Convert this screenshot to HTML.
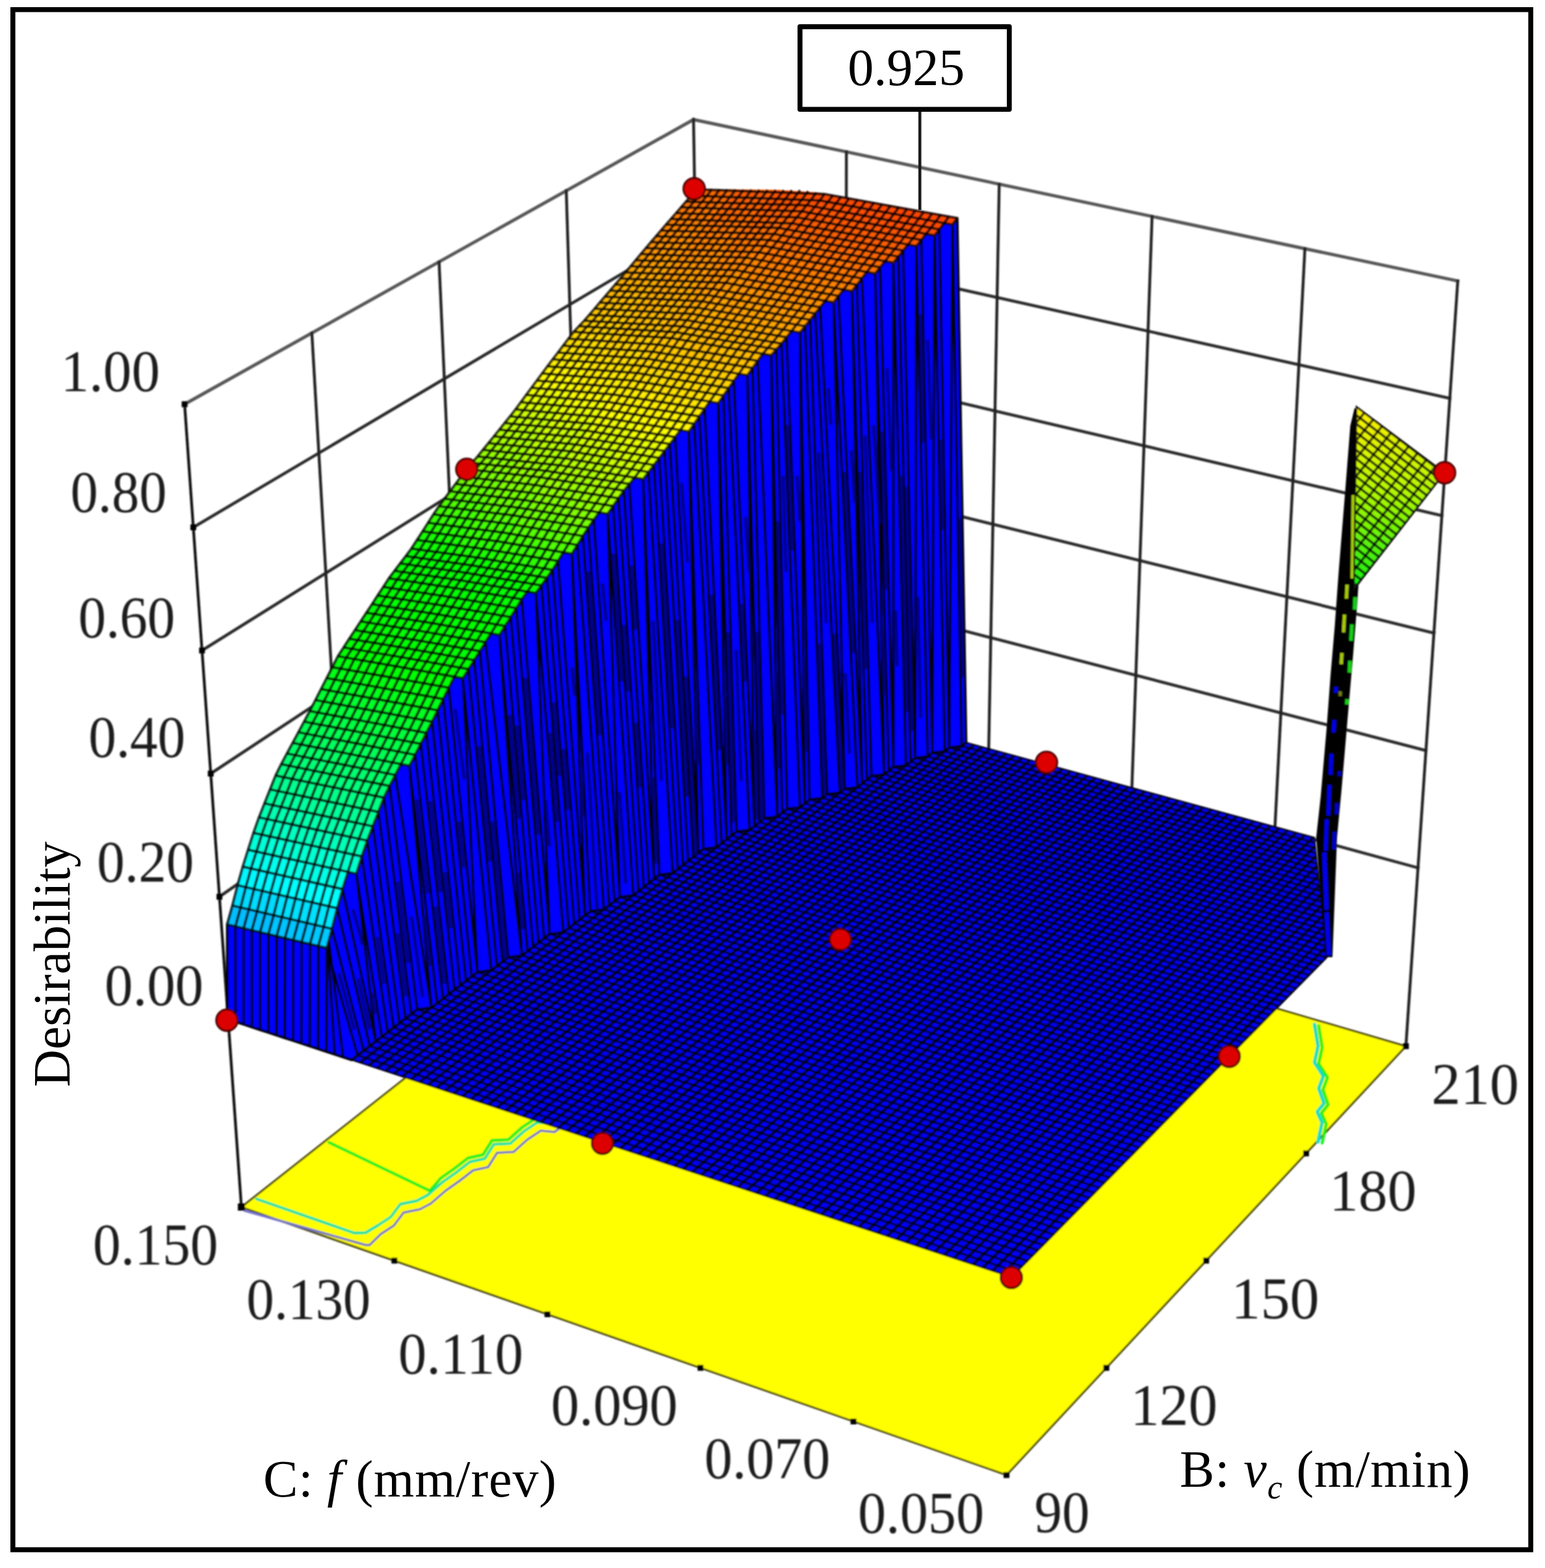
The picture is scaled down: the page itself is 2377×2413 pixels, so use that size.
<!DOCTYPE html>
<html><head><meta charset="utf-8"><title>Desirability 3D surface</title>
<style>html,body{margin:0;padding:0;background:#fff}svg{display:block}</style></head>
<body>
<svg xmlns="http://www.w3.org/2000/svg" width="2377" height="2413" viewBox="0 0 2377 2413">
<rect width="2377" height="2413" fill="#fff"/>
<defs><filter id="bl" x="0" y="0" width="2377" height="2413" filterUnits="userSpaceOnUse"><feGaussianBlur stdDeviation="1.1"/></filter></defs>
<g filter="url(#bl)">
<g fill="none" stroke-linecap="square"><path d="M284.0,622.0L1067.0,184.0M1067.0,184.0L2242.8,432.4" stroke="#565656" stroke-width="5"/><path d="M297.4,811.5L1069.8,354.4M1069.8,354.4L2230.6,613.0M310.8,1001.0L1072.5,524.8M1072.5,524.8L2218.3,793.6M324.2,1190.5L1075.3,695.2M1075.3,695.2L2206.1,974.2M337.6,1380.0L1078.0,865.6M1078.0,865.6L2193.8,1154.9M351.0,1569.5L1080.8,1036.0M1080.8,1036.0L2181.6,1335.5" stroke="#2c2c2c" stroke-width="4.6"/><path d="M1067.0,184.0L1080.8,1036.0M2242.8,432.4L2163.0,1610.0M479.8,512.5L533.5,1436.2M675.5,403.0L715.9,1302.8M871.2,293.5L898.4,1169.4M1302.2,233.7L1301.0,1095.9M1537.3,283.4L1521.1,1155.8M1772.5,333.0L1741.3,1215.7M2007.6,382.7L1961.4,1275.6" stroke="#202020" stroke-width="4.4"/></g>
<polygon points="371.4,1857.6 1548.5,2270.0 2163.0,1610.0 1085.0,1295.0" fill="#ffff00" stroke="#4a4610" stroke-width="3" stroke-linejoin="miter"/>
<polyline points="376.0,1863.0 562.6,1916.0 568.6,1916.0 586.0,1899.0 606.0,1886.0 621.0,1866.0 646.0,1861.0 663.0,1852.0 686.0,1832.0 706.0,1818.0 728.0,1801.0 751.0,1796.0 764.8,1774.0 790.0,1772.8 811.0,1754.0 832.0,1740.0 853.0,1742.0 886.0,1718.0" fill="none" stroke="#7474cc" stroke-width="3.6" stroke-linejoin="round" stroke-linecap="round"/>
<polyline points="394.5,1845.0 545.0,1897.5 562.6,1897.0 581.0,1886.0 601.0,1873.0 616.0,1853.0 641.0,1848.0 658.0,1839.0 681.0,1819.0 701.0,1805.0 723.0,1788.0 746.0,1783.0 759.8,1761.0 785.0,1759.8 806.0,1741.0 827.0,1727.0 848.0,1729.0 881.0,1705.0" fill="none" stroke="#1ce0a8" stroke-width="4.4" stroke-linejoin="round" stroke-linecap="round"/>
<polyline points="506.0,1758.0 661.3,1832.4 678.0,1813.0 698.0,1799.0 720.0,1782.0 743.0,1777.0 756.8,1755.0 782.0,1753.8 803.0,1735.0 824.0,1721.0 845.0,1723.0 878.0,1699.0" fill="none" stroke="#14f024" stroke-width="4.4" stroke-linejoin="round" stroke-linecap="round"/>
<polyline points="2022.4,1576.5 2027.8,1610.0 2022.4,1635.0 2036.0,1656.0 2029.0,1675.0 2037.0,1698.0 2026.6,1711.0 2034.0,1727.7 2027.7,1757.0" fill="none" stroke="#18dcc8" stroke-width="5.5" stroke-linejoin="round" stroke-linecap="round"/>
<polyline points="2028.9,1578.5 2034.3,1612.0 2028.9,1637.0 2042.5,1658.0 2035.5,1677.0 2043.5,1700.0 2033.1,1713.0 2040.5,1729.7 2034.2,1759.0" fill="none" stroke="#22f018" stroke-width="4.5" stroke-linejoin="round" stroke-linecap="round"/>
<path d="M284.0,622.0L371.4,1857.6" stroke="#111" stroke-width="4.2" fill="none"/>
<path d="M279.5,617.5h9v9h-9zM292.9,807.0h9v9h-9zM306.3,996.5h9v9h-9zM319.7,1186.0h9v9h-9zM333.1,1375.5h9v9h-9zM346.5,1565.0h9v9h-9zM365.9,1852.1h11v11h-11zM602.3,1935.6h9v9h-9zM837.7,2018.1h9v9h-9zM1073.2,2100.5h9v9h-9zM1308.6,2183.0h9v9h-9zM1544.0,2265.5h9v9h-9zM1697.6,2100.5h9v9h-9zM1851.2,1935.5h9v9h-9zM2004.9,1770.5h9v9h-9zM2158.5,1605.5h9v9h-9z" fill="#000"/>
<defs><clipPath id="fc"><polygon points="540.9,1631.1 550.2,1624.0 559.5,1616.8 568.8,1609.7 578.0,1602.6 587.2,1595.5 596.4,1588.4 605.5,1581.4 614.6,1574.4 623.7,1567.4 632.8,1560.4 641.8,1553.5 663.6,1550.7 672.5,1543.7 681.5,1536.9 690.4,1530.0 699.2,1523.1 708.0,1516.3 716.9,1509.5 725.6,1502.7 734.4,1496.0 755.8,1493.2 764.5,1486.5 773.1,1479.8 781.8,1473.1 803.0,1470.4 811.6,1463.8 820.1,1457.1 828.6,1450.5 837.1,1444.0 845.5,1437.4 866.6,1434.7 874.9,1428.2 883.3,1421.7 891.6,1415.2 899.9,1408.7 908.2,1402.3 929.0,1399.6 937.2,1393.2 945.4,1386.8 953.6,1380.4 974.2,1377.8 982.3,1371.5 990.4,1365.2 998.4,1358.8 1006.4,1352.6 1014.4,1346.3 1034.9,1343.7 1042.8,1337.5 1050.7,1331.3 1058.6,1325.0 1066.5,1318.9 1074.3,1312.7 1082.1,1306.5 1102.3,1304.0 1110.1,1297.9 1117.8,1291.8 1125.5,1285.7 1133.1,1279.7 1153.2,1277.2 1160.8,1271.2 1168.4,1265.2 1176.0,1259.1 1195.9,1256.7 1203.4,1250.7 1210.9,1244.8 1230.7,1242.4 1238.1,1236.4 1245.5,1230.5 1265.2,1228.1 1272.6,1222.2 1292.2,1219.8 1299.5,1214.0 1319.1,1211.6 1326.3,1205.8 1333.6,1199.9 1340.7,1194.1 1360.2,1191.8 1367.3,1186.0 1374.5,1180.2 1393.8,1177.9 1400.9,1172.2 1407.9,1166.5 1427.2,1164.1 1434.2,1158.4 1453.4,1156.1 1460.4,1150.5 1479.5,1148.2 1486.4,1142.5 2022.2,1288.9 2041.3,1473.7 1556.8,1965.7"/></clipPath></defs>
<polygon points="540.9,1631.1 550.2,1624.0 559.5,1616.8 568.8,1609.7 578.0,1602.6 587.2,1595.5 596.4,1588.4 605.5,1581.4 614.6,1574.4 623.7,1567.4 632.8,1560.4 641.8,1553.5 663.6,1550.7 672.5,1543.7 681.5,1536.9 690.4,1530.0 699.2,1523.1 708.0,1516.3 716.9,1509.5 725.6,1502.7 734.4,1496.0 755.8,1493.2 764.5,1486.5 773.1,1479.8 781.8,1473.1 803.0,1470.4 811.6,1463.8 820.1,1457.1 828.6,1450.5 837.1,1444.0 845.5,1437.4 866.6,1434.7 874.9,1428.2 883.3,1421.7 891.6,1415.2 899.9,1408.7 908.2,1402.3 929.0,1399.6 937.2,1393.2 945.4,1386.8 953.6,1380.4 974.2,1377.8 982.3,1371.5 990.4,1365.2 998.4,1358.8 1006.4,1352.6 1014.4,1346.3 1034.9,1343.7 1042.8,1337.5 1050.7,1331.3 1058.6,1325.0 1066.5,1318.9 1074.3,1312.7 1082.1,1306.5 1102.3,1304.0 1110.1,1297.9 1117.8,1291.8 1125.5,1285.7 1133.1,1279.7 1153.2,1277.2 1160.8,1271.2 1168.4,1265.2 1176.0,1259.1 1195.9,1256.7 1203.4,1250.7 1210.9,1244.8 1230.7,1242.4 1238.1,1236.4 1245.5,1230.5 1265.2,1228.1 1272.6,1222.2 1292.2,1219.8 1299.5,1214.0 1319.1,1211.6 1326.3,1205.8 1333.6,1199.9 1340.7,1194.1 1360.2,1191.8 1367.3,1186.0 1374.5,1180.2 1393.8,1177.9 1400.9,1172.2 1407.9,1166.5 1427.2,1164.1 1434.2,1158.4 1453.4,1156.1 1460.4,1150.5 1479.5,1148.2 1486.4,1142.5 2022.2,1288.9 2041.3,1473.7 1556.8,1965.7" fill="#0000fa" stroke="#00001c" stroke-width="2"/>
<g clip-path="url(#fc)" fill="none" stroke="#000008"><path d="M529.5,1627.4L1556.8,1965.7M538.9,1620.2L1565.0,1957.4M548.2,1613.1L1573.1,1949.1M557.4,1606.0L1581.3,1940.8M566.7,1598.9L1589.4,1932.5M575.9,1591.8L1597.5,1924.3M585.1,1584.8L1605.5,1916.2M594.2,1577.7L1613.6,1908.0M603.4,1570.7L1621.6,1899.9M612.5,1563.7L1629.5,1891.8M621.5,1556.8L1637.5,1883.7M630.6,1549.9L1645.4,1875.7M639.6,1543.0L1653.3,1867.7M648.5,1536.1L1661.1,1859.7M657.5,1529.2L1669.0,1851.8M666.4,1522.4L1676.8,1843.8M675.3,1515.5L1684.5,1835.9M684.1,1508.7L1692.3,1828.1M693.0,1502.0L1700.0,1820.2M701.8,1495.2L1707.7,1812.4M710.5,1488.5L1715.4,1804.6M719.3,1481.8L1723.0,1796.9M728.0,1475.1L1730.6,1789.1M736.7,1468.4L1738.2,1781.4M745.3,1461.8L1745.8,1773.8M754.0,1455.2L1753.3,1766.1M762.6,1448.6L1760.8,1758.5M771.1,1442.0L1768.3,1750.9M779.7,1435.4L1775.8,1743.3M788.2,1428.9L1783.2,1735.8M796.7,1422.4L1790.6,1728.2M805.2,1415.9L1798.0,1720.8M813.6,1409.4L1805.4,1713.3M822.0,1402.9L1812.7,1705.8M830.4,1396.5L1820.0,1698.4M838.8,1390.1L1827.3,1691.0M847.1,1383.7L1834.5,1683.7M855.4,1377.3L1841.8,1676.3M863.7,1371.0L1849.0,1669.0M871.9,1364.6L1856.1,1661.7M880.2,1358.3L1863.3,1654.4M888.4,1352.0L1870.4,1647.2M896.5,1345.8L1877.6,1640.0M904.7,1339.5L1884.6,1632.8M912.8,1333.3L1891.7,1625.6M920.9,1327.1L1898.7,1618.5M929.0,1320.9L1905.8,1611.3M937.0,1314.7L1912.7,1604.2M945.1,1308.5L1919.7,1597.2M953.1,1302.4L1926.7,1590.1M961.0,1296.3L1933.6,1583.1M969.0,1290.2L1940.5,1576.1M976.9,1284.1L1947.4,1569.1M984.8,1278.0L1954.2,1562.1M992.7,1272.0L1961.1,1555.2M1000.5,1266.0L1967.9,1548.3M1008.4,1260.0L1974.6,1541.4M1016.2,1254.0L1981.4,1534.5M1024.0,1248.0L1988.2,1527.7M1031.7,1242.0L1994.9,1520.9M1039.4,1236.1L2001.6,1514.1M1047.2,1230.2L2008.3,1507.3M1054.8,1224.3L2014.9,1500.5M1062.5,1218.4L2021.5,1493.8M1070.1,1212.6L2028.2,1487.1M1077.8,1206.7L2034.7,1480.4M1085.3,1200.9L2041.3,1473.7M1092.9,1195.1L2047.9,1467.1M1100.5,1189.3L2054.4,1460.4M1108.0,1183.5L2060.9,1453.8M1115.5,1177.8L2067.4,1447.3M1123.0,1172.0L2073.8,1440.7M1130.4,1166.3L2080.3,1434.1M1137.9,1160.6L2086.7,1427.6M1145.3,1154.9L2093.1,1421.1M1152.7,1149.2L2099.5,1414.6M1160.0,1143.6L2105.9,1408.2M1167.4,1137.9L2112.2,1401.7M1174.7,1132.3L2118.5,1395.3M1182.0,1126.7L2124.8,1388.9M1189.3,1121.1L2131.1,1382.6M1196.5,1115.6L2137.4,1376.2M1203.8,1110.0L2143.6,1369.9M1211.0,1104.5L2149.8,1363.5M1218.2,1099.0L2156.0,1357.2M1225.4,1093.5L2162.2,1351.0M1232.5,1088.0L2168.4,1344.7M1239.7,1082.5L2174.5,1338.5M1246.8,1077.0L2180.6,1332.2" stroke-width="3.6" stroke-opacity="0.82"/><path d="M528.0,1626.9L1245.3,1076.6M540.9,1631.1L1257.2,1079.9M553.8,1635.4L1269.1,1083.1M566.8,1639.7L1281.0,1086.4M579.8,1644.0L1292.9,1089.6M592.8,1648.2L1304.8,1092.9M605.9,1652.5L1316.8,1096.2M618.9,1656.8L1328.8,1099.4M632.0,1661.1L1340.8,1102.7M645.1,1665.5L1352.8,1106.0M658.3,1669.8L1364.9,1109.3M671.5,1674.1L1376.9,1112.6M684.7,1678.5L1389.0,1115.9M697.9,1682.8L1401.1,1119.2M711.1,1687.2L1413.2,1122.5M724.4,1691.6L1425.4,1125.8M737.7,1696.0L1437.5,1129.2M751.0,1700.3L1449.7,1132.5M764.4,1704.7L1461.9,1135.8M777.8,1709.1L1474.2,1139.2M791.2,1713.6L1486.4,1142.5M804.6,1718.0L1498.7,1145.9M818.1,1722.4L1511.0,1149.2M831.6,1726.9L1523.3,1152.6M845.1,1731.3L1535.6,1156.0M858.6,1735.8L1548.0,1159.3M872.2,1740.2L1560.4,1162.7M885.8,1744.7L1572.7,1166.1M899.4,1749.2L1585.2,1169.5M913.1,1753.7L1597.6,1172.9M926.7,1758.2L1610.1,1176.3M940.4,1762.7L1622.6,1179.7M954.2,1767.2L1635.1,1183.1M967.9,1771.8L1647.6,1186.6M981.7,1776.3L1660.1,1190.0M995.5,1780.9L1672.7,1193.4M1009.4,1785.4L1685.3,1196.9M1023.2,1790.0L1697.9,1200.3M1037.1,1794.6L1710.6,1203.8M1051.1,1799.1L1723.2,1207.2M1065.0,1803.7L1735.9,1210.7M1079.0,1808.3L1748.6,1214.2M1093.0,1813.0L1761.3,1217.7M1107.0,1817.6L1774.1,1221.1M1121.1,1822.2L1786.8,1224.6M1135.2,1826.9L1799.6,1228.1M1149.3,1831.5L1812.5,1231.6M1163.5,1836.2L1825.3,1235.1M1177.7,1840.8L1838.2,1238.6M1191.9,1845.5L1851.0,1242.2M1206.1,1850.2L1863.9,1245.7M1220.4,1854.9L1876.9,1249.2M1234.7,1859.6L1889.8,1252.8M1249.0,1864.3L1902.8,1256.3M1263.4,1869.1L1915.8,1259.9M1277.7,1873.8L1928.8,1263.4M1292.2,1878.5L1941.9,1267.0M1306.6,1883.3L1954.9,1270.6M1321.1,1888.1L1968.0,1274.1M1335.6,1892.8L1981.1,1277.7M1350.1,1897.6L1994.3,1281.3M1364.7,1902.4L2007.4,1284.9M1379.3,1907.2L2020.6,1288.5M1393.9,1912.0L2033.8,1292.1M1408.5,1916.9L2047.0,1295.7M1423.2,1921.7L2060.3,1299.4M1437.9,1926.6L2073.6,1303.0M1452.7,1931.4L2086.9,1306.6M1467.5,1936.3L2100.2,1310.3M1482.3,1941.1L2113.5,1313.9M1497.1,1946.0L2126.9,1317.6M1512.0,1950.9L2140.3,1321.2M1526.9,1955.8L2153.7,1324.9M1541.8,1960.8L2167.2,1328.6M1556.8,1965.7L2180.6,1332.2" stroke-width="4.6" stroke-opacity="0.82"/></g>
<path d="M1465.5,345.6L1479.5,1148.2L1486.4,1142.5L1472.8,335.8ZM1445.2,353.0L1460.4,1150.5L1465.5,345.6L1452.5,343.2ZM1460.4,1150.5L1460.4,1150.5L1479.5,1148.2L1465.5,345.6ZM1437.8,362.3L1453.4,1156.1L1460.4,1150.5L1445.2,353.0ZM1417.4,369.2L1434.2,1158.4L1437.8,362.3L1424.8,359.9ZM1434.2,1158.4L1434.2,1158.4L1453.4,1156.1L1437.8,362.3ZM1409.9,378.6L1427.2,1164.1L1434.2,1158.4L1417.4,369.2ZM1389.5,385.5L1407.9,1166.5L1409.9,378.6L1397.0,376.2ZM1407.9,1166.5L1407.9,1166.5L1427.2,1164.1L1409.9,378.6ZM1382.0,394.9L1400.9,1172.2L1407.9,1166.5L1389.5,385.5ZM1374.5,404.3L1393.8,1177.9L1400.9,1172.2L1382.0,394.9ZM1354.0,411.3L1374.5,1180.2L1374.5,404.3L1361.6,401.9ZM1374.5,1180.2L1374.5,1180.2L1393.8,1177.9L1374.5,404.3ZM1346.5,421.0L1367.3,1186.0L1374.5,1180.2L1354.0,411.3ZM1326.0,428.4L1360.2,1191.8L1346.5,421.0L1333.5,418.6ZM1360.2,1191.8L1360.2,1191.8L1367.3,1186.0L1346.5,421.0ZM1318.4,438.2L1340.7,1194.1L1360.2,1191.8L1326.0,428.4ZM1310.7,448.0L1333.6,1199.9L1340.7,1194.1L1318.4,438.2ZM1290.1,455.4L1326.3,1205.8L1310.7,448.0L1297.8,445.6ZM1326.3,1205.8L1326.3,1205.8L1333.6,1199.9L1310.7,448.0ZM1282.5,465.3L1319.1,1211.6L1326.3,1205.8L1290.1,455.4ZM1261.8,472.7L1299.5,1214.0L1282.5,465.3L1269.5,462.9ZM1299.5,1214.0L1299.5,1214.0L1319.1,1211.6L1282.5,465.3ZM1254.1,482.4L1292.2,1219.8L1299.5,1214.0L1261.8,472.7ZM1246.4,492.1L1272.6,1222.2L1292.2,1219.8L1254.1,482.4ZM1238.6,501.9L1265.2,1228.1L1272.6,1222.2L1246.4,492.1ZM1230.8,511.6L1245.5,1230.5L1265.2,1228.1L1238.6,501.9ZM1210.1,519.0L1238.1,1236.4L1230.8,511.6L1217.9,509.2ZM1238.1,1236.4L1238.1,1236.4L1245.5,1230.5L1230.8,511.6ZM1202.3,528.7L1230.7,1242.4L1238.1,1236.4L1210.1,519.0ZM1194.4,537.6L1210.9,1244.8L1230.7,1242.4L1202.3,528.7ZM1186.5,546.7L1203.4,1250.7L1210.9,1244.8L1194.4,537.6ZM1165.7,555.3L1195.9,1256.7L1186.5,546.7L1173.6,544.3ZM1195.9,1256.7L1195.9,1256.7L1203.4,1250.7L1186.5,546.7ZM1157.8,566.3L1176.0,1259.1L1195.9,1256.7L1165.7,555.3ZM1149.9,577.4L1168.4,1265.2L1176.0,1259.1L1157.8,566.3ZM1128.9,586.1L1160.8,1271.2L1149.9,577.4L1136.9,575.0ZM1160.8,1271.2L1160.8,1271.2L1168.4,1265.2L1149.9,577.4ZM1121.0,597.2L1153.2,1277.2L1160.8,1271.2L1128.9,586.1ZM1113.0,608.6L1133.1,1279.7L1153.2,1277.2L1121.0,597.2ZM1105.0,620.1L1125.5,1285.7L1133.1,1279.7L1113.0,608.6ZM1084.0,629.2L1117.8,1291.8L1105.0,620.1L1092.0,617.7ZM1117.8,1291.8L1117.8,1291.8L1125.5,1285.7L1105.0,620.1ZM1075.9,640.7L1110.1,1297.9L1117.8,1291.8L1084.0,629.2ZM1067.9,652.3L1102.3,1304.0L1110.1,1297.9L1075.9,640.7ZM1059.8,663.9L1082.1,1306.5L1102.3,1304.0L1067.9,652.3ZM1038.7,672.6L1074.3,1312.7L1059.8,663.9L1046.8,661.4ZM1074.3,1312.7L1074.3,1312.7L1082.1,1306.5L1059.8,663.9ZM1030.5,683.3L1066.5,1318.9L1074.3,1312.7L1038.7,672.6ZM1022.4,694.0L1058.6,1325.0L1066.5,1318.9L1030.5,683.3ZM1014.2,704.8L1050.7,1331.3L1058.6,1325.0L1022.4,694.0ZM1006.0,715.6L1042.8,1337.5L1050.7,1331.3L1014.2,704.8ZM997.7,726.4L1034.9,1343.7L1042.8,1337.5L1006.0,715.6ZM989.5,737.2L1014.4,1346.3L1034.9,1343.7L997.7,726.4ZM968.2,744.8L1006.4,1352.6L989.5,737.2L976.5,734.7ZM1006.4,1352.6L1006.4,1352.6L1014.4,1346.3L989.5,737.2ZM959.9,755.0L998.4,1358.8L1006.4,1352.6L968.2,744.8ZM951.5,766.8L990.4,1365.2L998.4,1358.8L959.9,755.0ZM943.2,778.7L982.3,1371.5L990.4,1365.2L951.5,766.8ZM934.9,790.6L974.2,1377.8L982.3,1371.5L943.2,778.7ZM913.5,800.0L953.6,1380.4L934.9,790.6L921.9,788.1ZM953.6,1380.4L953.6,1380.4L974.2,1377.8L934.9,790.6ZM905.1,811.9L945.4,1386.8L953.6,1380.4L913.5,800.0ZM896.7,824.9L937.2,1393.2L945.4,1386.8L905.1,811.9ZM888.3,838.6L929.0,1399.6L937.2,1393.2L896.7,824.9ZM879.9,852.2L908.2,1402.3L929.0,1399.6L888.3,838.6ZM858.5,863.3L899.9,1408.7L879.9,852.2L866.9,849.6ZM899.9,1408.7L899.9,1408.7L908.2,1402.3L879.9,852.2ZM850.1,877.0L891.6,1415.2L899.9,1408.7L858.5,863.3ZM841.5,889.2L883.3,1421.7L891.6,1415.2L850.1,877.0ZM833.0,900.9L874.9,1428.2L883.3,1421.7L841.5,889.2ZM824.4,912.7L866.6,1434.7L874.9,1428.2L833.0,900.9ZM802.8,922.2L845.5,1437.4L824.4,912.7L811.4,910.1ZM845.5,1437.4L845.5,1437.4L866.6,1434.7L824.4,912.7ZM794.3,935.9L837.1,1444.0L845.5,1437.4L802.8,922.2ZM785.7,949.6L828.6,1450.5L837.1,1444.0L794.3,935.9ZM777.1,963.3L820.1,1457.1L828.6,1450.5L785.7,949.6ZM768.5,977.1L811.6,1463.8L820.1,1457.1L777.1,963.3ZM746.9,988.2L803.0,1470.4L768.5,977.1L755.5,974.4ZM803.0,1470.4L803.0,1470.4L811.6,1463.8L768.5,977.1ZM738.2,1002.0L781.8,1473.1L803.0,1470.4L746.9,988.2ZM729.5,1015.9L773.1,1479.8L781.8,1473.1L738.2,1002.0ZM720.8,1029.8L764.5,1486.5L773.1,1479.8L729.5,1015.9ZM712.1,1043.8L755.8,1493.2L764.5,1486.5L720.8,1029.8ZM690.5,1058.4L734.4,1496.0L712.1,1043.8L699.1,1041.0ZM734.4,1496.0L734.4,1496.0L755.8,1493.2L712.1,1043.8ZM681.9,1075.7L725.6,1502.7L734.4,1496.0L690.5,1058.4ZM673.3,1093.1L716.9,1509.5L725.6,1502.7L681.9,1075.7ZM664.7,1110.6L708.0,1516.3L716.9,1509.5L673.3,1093.1ZM656.0,1128.0L699.2,1523.1L708.0,1516.3L664.7,1110.6ZM647.3,1144.8L690.4,1530.0L699.2,1523.1L656.0,1128.0ZM638.6,1161.6L681.5,1536.9L690.4,1530.0L647.3,1144.8ZM629.9,1178.5L672.5,1543.7L681.5,1536.9L638.6,1161.6ZM608.1,1192.6L663.6,1550.7L629.9,1178.5L616.9,1175.8ZM663.6,1550.7L663.6,1550.7L672.5,1543.7L629.9,1178.5ZM599.4,1209.5L641.8,1553.5L663.6,1550.7L608.1,1192.6ZM590.7,1227.5L632.8,1560.4L641.8,1553.5L599.4,1209.5ZM582.1,1249.5L623.7,1567.4L632.8,1560.4L590.7,1227.5ZM573.6,1271.6L614.6,1574.4L623.7,1567.4L582.1,1249.5ZM565.0,1293.6L605.5,1581.4L614.6,1574.4L573.6,1271.6ZM556.6,1318.0L596.4,1588.4L605.5,1581.4L565.0,1293.6ZM548.3,1344.6L587.2,1595.5L596.4,1588.4L556.6,1318.0ZM527.0,1368.3L578.0,1602.6L548.3,1344.6L535.3,1341.7ZM578.0,1602.6L578.0,1602.6L587.2,1595.5L548.3,1344.6ZM518.8,1397.6L568.8,1609.7L578.0,1602.6L527.0,1368.3ZM510.8,1429.4L559.5,1616.8L568.8,1609.7L518.8,1397.6ZM502.7,1459.0L550.2,1624.0L559.5,1616.8L510.8,1429.4ZM349.7,1568.2L362.3,1572.3L362.1,1425.6L349.5,1422.6ZM362.3,1572.3L374.9,1576.5L374.8,1428.6L362.1,1425.6ZM374.9,1576.5L387.5,1580.6L387.4,1431.6L374.8,1428.6ZM387.5,1580.6L400.1,1584.8L400.1,1434.6L387.4,1431.6ZM400.1,1584.8L412.8,1589.0L412.9,1437.7L400.1,1434.6ZM412.8,1589.0L425.5,1593.1L425.6,1440.7L412.9,1437.7ZM425.5,1593.1L438.2,1597.3L438.4,1443.7L425.6,1440.7ZM438.2,1597.3L451.0,1601.5L451.2,1446.8L438.4,1443.7ZM451.0,1601.5L463.7,1605.7L464.0,1449.8L451.2,1446.8ZM463.7,1605.7L476.5,1609.9L476.9,1452.9L464.0,1449.8ZM476.5,1609.9L489.4,1614.2L489.7,1455.9L476.9,1452.9ZM489.4,1614.2L502.2,1618.4L502.7,1459.0L489.7,1455.9ZM502.2,1618.4L540.9,1631.1L550.2,1624.0L502.7,1459.0Z" fill="#0000ff" stroke="#000010" stroke-width="3.9" stroke-linejoin="round"/>
<path d="M1477.0,797.7L1481.2,1041.9M1447.6,676.5L1450.3,815.9M1427.0,522.9L1432.8,676.3M1416.0,483.8L1420.3,681.3M1412.1,918.3L1416.3,1105.3M1394.4,748.9L1403.4,1124.8M1386.5,732.3L1395.4,1095.4M1364.7,566.3L1371.6,725.4M1378.2,939.5L1380.3,1025.3M1356.9,664.2L1363.5,907.4M1344.0,654.3L1353.3,806.4M1358.0,976.1L1360.5,1070.4M1331.0,670.2L1341.8,958.9M1323.0,726.2L1332.1,1029.1M1309.8,692.8L1315.0,773.1M1299.3,726.7L1312.8,1005.1M1274.5,597.5L1278.3,653.5M1300.6,1035.8L1306.7,1160.2M1283.5,975.3L1295.9,1216.9M1259.4,696.6L1270.9,958.9M1260.4,991.4L1268.9,1225.2M1226.4,731.8L1230.4,802.3M1237.2,1009.8L1240.2,1157.1M1211.3,654.2L1218.9,847.5M1204.6,732.3L1209.3,880.0M1196.6,802.4L1203.6,1099.7M1194.4,1034.2L1197.9,1182.9M1164.5,972.4L1172.2,1262.2M1146.9,795.5L1152.5,880.4M1160.7,1123.1L1164.4,1261.0M1140.8,929.7L1146.4,1048.6M1132.4,999.9L1140.2,1202.4M1119.9,973.2L1128.8,1265.5M1115.0,1073.2L1118.2,1177.0M1094.4,915.3L1106.7,1154.7M1048.5,743.5L1057.8,865.9M1069.6,1063.6L1073.6,1176.5M1055.0,1041.1L1070.4,1315.8M1041.6,954.4L1057.1,1226.0M1017.5,836.0L1034.2,1121.1M1004.9,955.6L1017.4,1201.9M1004.2,1196.8L1009.6,1328.6M971.7,870.4L977.9,968.8M978.3,1112.4L984.7,1212.0M959.7,961.6L966.5,1064.1M943.5,851.9L956.6,1048.7M927.1,897.9L932.4,955.3M953.2,1218.9L962.6,1359.6M905.2,879.2L923.0,1131.1M903.5,1158.1L918.6,1401.0M879.7,1027.3L884.0,1070.7M893.7,1203.7L896.4,1256.6M866.8,1152.7L874.1,1246.3M852.0,1081.0L860.9,1194.1M846.4,1127.7L857.4,1264.6M839.5,1231.3L845.3,1302.8M808.1,1043.5L828.3,1284.8M795.2,1116.5L805.2,1231.6M784.3,1100.5L798.3,1260.2M796.3,1343.0L804.0,1430.2M757.7,1264.6L777.4,1476.5M737.1,1148.3L753.9,1325.7M700.2,1091.1L714.1,1199.2M706.2,1264.3L713.4,1335.1M684.4,1342.2L693.8,1428.6M662.4,1233.1L677.8,1373.0M670.3,1395.5L683.7,1514.1M641.2,1230.4L657.9,1374.6M652.0,1409.4L661.0,1487.0M632.9,1410.4L650.2,1534.4M612.3,1356.6L627.9,1481.8M611.8,1436.4L624.3,1533.2M580.4,1442.0L590.8,1514.1M543.1,1399.4L558.0,1454.4M571.6,1528.1L576.8,1561.3M550.8,1506.2L568.3,1583.5M521.3,1497.4L545.1,1584.6" fill="none" stroke="#000078" stroke-width="5" stroke-opacity="0.85"/>
<path d="M504.3,1453.1L515.0,1622.6M505.9,1447.3L527.7,1626.8" fill="none" stroke="#000010" stroke-width="3.8"/>
<g stroke-width="1.2"><path d="M349.5,1422.6L412.9,1437.7L421.0,1408.4L357.6,1393.6Z" fill="#00beff" stroke="#00beff"/><path d="M412.9,1437.7L476.9,1452.9L485.0,1423.4L421.0,1408.4Z" fill="#00c4ff" stroke="#00c4ff"/><path d="M476.9,1452.9L502.7,1459.0L510.8,1429.4L485.0,1423.4Z" fill="#00c9ff" stroke="#00c9ff"/><path d="M357.6,1393.6L421.0,1408.4L428.9,1377.0L365.5,1362.4Z" fill="#00dbff" stroke="#00dbff"/><path d="M421.0,1408.4L485.0,1423.4L493.0,1391.7L428.9,1377.0Z" fill="#00e1ff" stroke="#00e1ff"/><path d="M485.0,1423.4L510.8,1429.4L518.8,1397.6L493.0,1391.7Z" fill="#00e6ff" stroke="#00e6ff"/><path d="M365.5,1362.4L428.9,1377.0L437.0,1348.0L373.6,1333.7Z" fill="#00f7ff" stroke="#00f7ff"/><path d="M428.9,1377.0L493.0,1391.7L501.2,1362.5L437.0,1348.0Z" fill="#00feff" stroke="#00feff"/><path d="M493.0,1391.7L518.8,1397.6L527.0,1368.3L501.2,1362.5Z" fill="#00fffc" stroke="#00fffc"/><path d="M373.6,1333.7L437.0,1348.0L445.3,1321.8L381.8,1307.7Z" fill="#00ffef" stroke="#00ffef"/><path d="M437.0,1348.0L501.2,1362.5L509.5,1336.0L445.3,1321.8Z" fill="#00ffe8" stroke="#00ffe8"/><path d="M501.2,1362.5L527.0,1368.3L535.3,1341.7L509.5,1336.0Z" fill="#00ffe4" stroke="#00ffe4"/><path d="M381.8,1307.7L445.3,1321.8L453.6,1295.6L390.1,1281.7Z" fill="#00ffd9" stroke="#00ffd9"/><path d="M445.3,1321.8L509.5,1336.0L517.8,1309.6L453.6,1295.6Z" fill="#00ffd2" stroke="#00ffd2"/><path d="M509.5,1336.0L548.3,1344.6L556.6,1318.0L517.8,1309.6Z" fill="#00ffcd" stroke="#00ffcd"/><path d="M390.1,1281.7L453.6,1295.6L462.0,1271.5L398.5,1257.9Z" fill="#00ffc4" stroke="#00ffc4"/><path d="M453.6,1295.6L517.8,1309.6L526.2,1285.3L462.0,1271.5Z" fill="#00ffbe" stroke="#00ffbe"/><path d="M517.8,1309.6L556.6,1318.0L565.0,1293.6L526.2,1285.3Z" fill="#00ffb8" stroke="#00ffb8"/><path d="M398.5,1257.9L462.0,1271.5L470.5,1249.8L407.0,1236.4Z" fill="#00ffb2" stroke="#00ffb2"/><path d="M462.0,1271.5L526.2,1285.3L534.7,1263.4L470.5,1249.8Z" fill="#00ffab" stroke="#00ffab"/><path d="M526.2,1285.3L565.0,1293.6L573.6,1271.6L534.7,1263.4Z" fill="#00ffa6" stroke="#00ffa6"/><path d="M407.0,1236.4L470.5,1249.8L479.1,1228.1L415.6,1214.9Z" fill="#00ffa1" stroke="#00ffa1"/><path d="M470.5,1249.8L534.7,1263.4L543.3,1241.5L479.1,1228.1Z" fill="#00ff9a" stroke="#00ff9a"/><path d="M534.7,1263.4L573.6,1271.6L582.1,1249.5L543.3,1241.5Z" fill="#00ff95" stroke="#00ff95"/><path d="M415.6,1214.9L479.1,1228.1L487.6,1206.5L424.1,1193.5Z" fill="#00ff90" stroke="#00ff90"/><path d="M479.1,1228.1L543.3,1241.5L551.8,1219.6L487.6,1206.5Z" fill="#00ff89" stroke="#00ff89"/><path d="M543.3,1241.5L582.1,1249.5L590.7,1227.5L551.8,1219.6Z" fill="#00ff84" stroke="#00ff84"/><path d="M424.1,1193.5L487.6,1206.5L496.3,1188.8L432.8,1176.0Z" fill="#00ff82" stroke="#00ff82"/><path d="M487.6,1206.5L551.8,1219.6L560.5,1201.7L496.3,1188.8Z" fill="#00ff7b" stroke="#00ff7b"/><path d="M551.8,1219.6L590.7,1227.5L599.4,1209.5L560.5,1201.7Z" fill="#00ff75" stroke="#00ff75"/><path d="M432.8,1176.0L496.3,1188.8L505.1,1172.2L441.6,1159.6Z" fill="#00ff76" stroke="#00ff76"/><path d="M496.3,1188.8L560.5,1201.7L569.3,1184.9L505.1,1172.2Z" fill="#00ff6f" stroke="#00ff6f"/><path d="M560.5,1201.7L599.4,1209.5L608.1,1192.6L569.3,1184.9Z" fill="#00ff69" stroke="#00ff69"/><path d="M441.6,1159.6L505.1,1172.2L513.9,1155.6L450.4,1143.2Z" fill="#00ff6a" stroke="#00ff6a"/><path d="M505.1,1172.2L569.3,1184.9L578.1,1168.2L513.9,1155.6Z" fill="#00ff63" stroke="#00ff63"/><path d="M569.3,1184.9L608.1,1192.6L616.9,1175.8L578.1,1168.2Z" fill="#00ff5e" stroke="#00ff5e"/><path d="M450.4,1143.2L513.9,1155.6L522.7,1139.1L459.2,1126.9Z" fill="#00ff5f" stroke="#00ff5f"/><path d="M513.9,1155.6L578.1,1168.2L586.8,1151.5L522.7,1139.1Z" fill="#00ff58" stroke="#00ff58"/><path d="M578.1,1168.2L629.9,1178.5L638.6,1161.6L586.8,1151.5Z" fill="#00ff52" stroke="#00ff52"/><path d="M459.2,1126.9L522.7,1139.1L531.4,1122.6L468.0,1110.6Z" fill="#00ff54" stroke="#00ff54"/><path d="M522.7,1139.1L586.8,1151.5L595.5,1134.8L531.4,1122.6Z" fill="#00ff4c" stroke="#00ff4c"/><path d="M586.8,1151.5L638.6,1161.6L647.3,1144.8L595.5,1134.8Z" fill="#00ff46" stroke="#00ff46"/><path d="M468.0,1110.6L531.4,1122.6L540.1,1106.1L476.7,1094.3Z" fill="#00ff48" stroke="#00ff48"/><path d="M531.4,1122.6L595.5,1134.8L604.2,1118.1L540.1,1106.1Z" fill="#00ff41" stroke="#00ff41"/><path d="M595.5,1134.8L647.3,1144.8L656.0,1128.0L604.2,1118.1Z" fill="#00ff3b" stroke="#00ff3b"/><path d="M476.7,1094.3L540.1,1106.1L548.8,1089.0L485.4,1077.4Z" fill="#00ff3d" stroke="#00ff3d"/><path d="M540.1,1106.1L604.2,1118.1L612.9,1100.8L548.8,1089.0Z" fill="#00ff35" stroke="#00ff35"/><path d="M604.2,1118.1L656.0,1128.0L664.7,1110.6L612.9,1100.8Z" fill="#00ff2f" stroke="#00ff2f"/><path d="M485.4,1077.4L548.8,1089.0L557.5,1071.9L494.1,1060.5Z" fill="#00ff31" stroke="#00ff31"/><path d="M548.8,1089.0L612.9,1100.8L621.5,1083.5L557.5,1071.9Z" fill="#00ff29" stroke="#00ff29"/><path d="M612.9,1100.8L664.7,1110.6L673.3,1093.1L621.5,1083.5Z" fill="#00ff22" stroke="#00ff22"/><path d="M494.1,1060.5L557.5,1071.9L566.1,1054.9L502.7,1043.6Z" fill="#00ff25" stroke="#00ff25"/><path d="M557.5,1071.9L621.5,1083.5L630.2,1066.2L566.1,1054.9Z" fill="#00ff1d" stroke="#00ff1d"/><path d="M621.5,1083.5L673.3,1093.1L681.9,1075.7L630.2,1066.2Z" fill="#00ff16" stroke="#00ff16"/><path d="M502.7,1043.6L566.1,1054.9L574.7,1037.8L511.4,1026.8Z" fill="#00ff19" stroke="#00ff19"/><path d="M566.1,1054.9L630.2,1066.2L638.8,1049.0L574.7,1037.8Z" fill="#00ff11" stroke="#00ff11"/><path d="M630.2,1066.2L681.9,1075.7L690.5,1058.4L638.8,1049.0Z" fill="#00ff0a" stroke="#00ff0a"/><path d="M511.4,1026.8L574.7,1037.8L583.3,1020.8L520.0,1009.9Z" fill="#00ff0d" stroke="#00ff0d"/><path d="M574.7,1037.8L638.8,1049.0L647.4,1031.8L583.3,1020.8Z" fill="#00ff05" stroke="#00ff05"/><path d="M638.8,1049.0L690.5,1058.4L699.1,1041.0L647.4,1031.8Z" fill="#00ff00" stroke="#00ff00"/><path d="M520.0,1009.9L583.3,1020.8L592.1,1007.1L528.8,996.4Z" fill="#00ff02" stroke="#00ff02"/><path d="M583.3,1020.8L647.4,1031.8L656.1,1017.9L592.1,1007.1Z" fill="#00ff00" stroke="#00ff00"/><path d="M647.4,1031.8L712.1,1043.8L720.8,1029.8L656.1,1017.9Z" fill="#00ff00" stroke="#00ff00"/><path d="M528.8,996.4L592.1,1007.1L600.8,993.6L537.5,983.0Z" fill="#00ff00" stroke="#00ff00"/><path d="M592.1,1007.1L656.1,1017.9L664.8,1004.2L600.8,993.6Z" fill="#00ff00" stroke="#00ff00"/><path d="M656.1,1017.9L720.8,1029.8L729.5,1015.9L664.8,1004.2Z" fill="#00ff00" stroke="#00ff00"/><path d="M537.5,983.0L600.8,993.6L609.6,980.0L546.3,969.7Z" fill="#00ff00" stroke="#00ff00"/><path d="M600.8,993.6L664.8,1004.2L673.5,990.5L609.6,980.0Z" fill="#00ff00" stroke="#00ff00"/><path d="M664.8,1004.2L729.5,1015.9L738.2,1002.0L673.5,990.5Z" fill="#00ff00" stroke="#00ff00"/><path d="M546.3,969.7L609.6,980.0L618.3,966.5L555.0,956.3Z" fill="#00ff00" stroke="#00ff00"/><path d="M609.6,980.0L673.5,990.5L682.2,976.8L618.3,966.5Z" fill="#00ff00" stroke="#00ff00"/><path d="M673.5,990.5L738.2,1002.0L746.9,988.2L682.2,976.8Z" fill="#00ff00" stroke="#00ff00"/><path d="M555.0,956.3L618.3,966.5L627.0,953.0L563.8,943.0Z" fill="#00ff00" stroke="#00ff00"/><path d="M618.3,966.5L682.2,976.8L690.9,963.1L627.0,953.0Z" fill="#00ff00" stroke="#00ff00"/><path d="M682.2,976.8L746.9,988.2L755.5,974.4L690.9,963.1Z" fill="#00ff00" stroke="#00ff00"/><path d="M563.8,943.0L627.0,953.0L635.6,939.6L572.5,929.8Z" fill="#00ff00" stroke="#00ff00"/><path d="M627.0,953.0L690.9,963.1L699.5,949.5L635.6,939.6Z" fill="#00ff00" stroke="#00ff00"/><path d="M690.9,963.1L755.5,974.4L764.1,960.6L699.5,949.5Z" fill="#00ff00" stroke="#00ff00"/><path d="M755.5,974.4L768.5,977.1L777.1,963.3L764.1,960.6Z" fill="#00ff00" stroke="#00ff00"/><path d="M572.5,929.8L635.6,939.6L644.3,926.2L581.1,916.5Z" fill="#00ff00" stroke="#00ff00"/><path d="M635.6,939.6L699.5,949.5L708.1,935.9L644.3,926.2Z" fill="#00ff00" stroke="#00ff00"/><path d="M699.5,949.5L764.1,960.6L772.7,946.9L708.1,935.9Z" fill="#00ff00" stroke="#00ff00"/><path d="M764.1,960.6L777.1,963.3L785.7,949.6L772.7,946.9Z" fill="#00ff00" stroke="#00ff00"/><path d="M581.1,916.5L644.3,926.2L652.9,912.8L589.8,903.3Z" fill="#00ff00" stroke="#00ff00"/><path d="M644.3,926.2L708.1,935.9L716.7,922.4L652.9,912.8Z" fill="#00ff00" stroke="#00ff00"/><path d="M708.1,935.9L772.7,946.9L781.3,933.2L716.7,922.4Z" fill="#00ff00" stroke="#00ff00"/><path d="M772.7,946.9L785.7,949.6L794.3,935.9L781.3,933.2Z" fill="#00ff00" stroke="#00ff00"/><path d="M589.8,903.3L652.9,912.8L661.5,899.4L598.4,890.1Z" fill="#00ff00" stroke="#00ff00"/><path d="M652.9,912.8L716.7,922.4L725.3,908.8L661.5,899.4Z" fill="#00ff00" stroke="#00ff00"/><path d="M716.7,922.4L781.3,933.2L789.8,919.5L725.3,908.8Z" fill="#00ff00" stroke="#00ff00"/><path d="M781.3,933.2L794.3,935.9L802.8,922.2L789.8,919.5Z" fill="#00ff00" stroke="#00ff00"/><path d="M598.4,890.1L661.5,899.4L670.2,887.6L607.1,878.4Z" fill="#00ff00" stroke="#00ff00"/><path d="M661.5,899.4L725.3,908.8L733.9,896.8L670.2,887.6Z" fill="#00ff00" stroke="#00ff00"/><path d="M725.3,908.8L789.8,919.5L798.4,907.4L733.9,896.8Z" fill="#00ff00" stroke="#00ff00"/><path d="M789.8,919.5L802.8,922.2L811.4,910.1L798.4,907.4Z" fill="#02ff00" stroke="#02ff00"/><path d="M607.1,878.4L670.2,887.6L678.9,876.1L615.8,867.1Z" fill="#00ff00" stroke="#00ff00"/><path d="M670.2,887.6L733.9,896.8L742.6,885.2L678.9,876.1Z" fill="#00ff00" stroke="#00ff00"/><path d="M733.9,896.8L798.4,907.4L807.0,895.6L742.6,885.2Z" fill="#06ff00" stroke="#06ff00"/><path d="M798.4,907.4L824.4,912.7L833.0,900.9L807.0,895.6Z" fill="#0eff00" stroke="#0eff00"/><path d="M615.8,867.1L678.9,876.1L687.5,864.7L624.5,855.8Z" fill="#00ff00" stroke="#00ff00"/><path d="M678.9,876.1L742.6,885.2L751.2,873.6L687.5,864.7Z" fill="#03ff00" stroke="#03ff00"/><path d="M742.6,885.2L807.0,895.6L815.6,883.9L751.2,873.6Z" fill="#11ff00" stroke="#11ff00"/><path d="M807.0,895.6L833.0,900.9L841.5,889.2L815.6,883.9Z" fill="#19ff00" stroke="#19ff00"/><path d="M624.5,855.8L687.5,864.7L696.1,852.8L633.1,844.2Z" fill="#00ff00" stroke="#00ff00"/><path d="M687.5,864.7L751.2,873.6L759.7,861.6L696.1,852.8Z" fill="#0eff00" stroke="#0eff00"/><path d="M751.2,873.6L815.6,883.9L824.1,871.8L759.7,861.6Z" fill="#1cff00" stroke="#1cff00"/><path d="M815.6,883.9L841.5,889.2L850.1,877.0L824.1,871.8Z" fill="#24ff00" stroke="#24ff00"/><path d="M633.1,844.2L696.1,852.8L704.6,839.4L641.7,831.0Z" fill="#0bff00" stroke="#0bff00"/><path d="M696.1,852.8L759.7,861.6L768.2,848.0L704.6,839.4Z" fill="#1bff00" stroke="#1bff00"/><path d="M759.7,861.6L824.1,871.8L832.5,858.1L768.2,848.0Z" fill="#29ff00" stroke="#29ff00"/><path d="M824.1,871.8L850.1,877.0L858.5,863.3L832.5,858.1Z" fill="#31ff00" stroke="#31ff00"/><path d="M641.7,831.0L704.6,839.4L713.1,826.1L650.2,817.8Z" fill="#19ff00" stroke="#19ff00"/><path d="M704.6,839.4L768.2,848.0L776.7,834.5L713.1,826.1Z" fill="#29ff00" stroke="#29ff00"/><path d="M768.2,848.0L832.5,858.1L841.0,844.4L776.7,834.5Z" fill="#37ff00" stroke="#37ff00"/><path d="M832.5,858.1L858.5,863.3L866.9,849.6L841.0,844.4Z" fill="#3fff00" stroke="#3fff00"/><path d="M650.2,817.8L713.1,826.1L721.5,812.8L658.7,804.6Z" fill="#27ff00" stroke="#27ff00"/><path d="M713.1,826.1L776.7,834.5L785.1,821.0L721.5,812.8Z" fill="#37ff00" stroke="#37ff00"/><path d="M776.7,834.5L841.0,844.4L849.4,830.8L785.1,821.0Z" fill="#46ff00" stroke="#46ff00"/><path d="M841.0,844.4L879.9,852.2L888.3,838.6L849.4,830.8Z" fill="#4fff00" stroke="#4fff00"/><path d="M658.7,804.6L721.5,812.8L730.0,799.5L667.1,791.5Z" fill="#35ff00" stroke="#35ff00"/><path d="M721.5,812.8L785.1,821.0L793.5,807.5L730.0,799.5Z" fill="#45ff00" stroke="#45ff00"/><path d="M785.1,821.0L849.4,830.8L857.8,817.2L793.5,807.5Z" fill="#54ff00" stroke="#54ff00"/><path d="M849.4,830.8L888.3,838.6L896.7,824.9L857.8,817.2Z" fill="#5dff00" stroke="#5dff00"/><path d="M667.1,791.5L730.0,799.5L738.5,786.8L675.6,779.0Z" fill="#43ff00" stroke="#43ff00"/><path d="M730.0,799.5L793.5,807.5L802.0,794.7L738.5,786.8Z" fill="#53ff00" stroke="#53ff00"/><path d="M793.5,807.5L857.8,817.2L866.2,804.2L802.0,794.7Z" fill="#62ff00" stroke="#62ff00"/><path d="M857.8,817.2L896.7,824.9L905.1,811.9L866.2,804.2Z" fill="#6bff00" stroke="#6bff00"/><path d="M675.6,779.0L738.5,786.8L746.9,775.2L684.1,767.5Z" fill="#4fff00" stroke="#4fff00"/><path d="M738.5,786.8L802.0,794.7L810.4,782.9L746.9,775.2Z" fill="#5fff00" stroke="#5fff00"/><path d="M802.0,794.7L866.2,804.2L874.6,792.3L810.4,782.9Z" fill="#6eff00" stroke="#6eff00"/><path d="M866.2,804.2L905.1,811.9L913.5,800.0L874.6,792.3Z" fill="#77ff00" stroke="#77ff00"/><path d="M684.1,767.5L746.9,775.2L755.4,763.6L692.6,756.1Z" fill="#5aff00" stroke="#5aff00"/><path d="M746.9,775.2L810.4,782.9L818.8,771.1L755.4,763.6Z" fill="#6bff00" stroke="#6bff00"/><path d="M810.4,782.9L874.6,792.3L883.0,780.4L818.8,771.1Z" fill="#7aff00" stroke="#7aff00"/><path d="M874.6,792.3L913.5,800.0L921.9,788.1L883.0,780.4Z" fill="#83ff00" stroke="#83ff00"/><path d="M692.6,756.1L755.4,763.6L763.8,752.0L701.1,744.7Z" fill="#65ff00" stroke="#65ff00"/><path d="M755.4,763.6L818.8,771.1L827.2,759.4L763.8,752.0Z" fill="#76ff00" stroke="#76ff00"/><path d="M818.8,771.1L883.0,780.4L891.4,768.5L827.2,759.4Z" fill="#85ff00" stroke="#85ff00"/><path d="M883.0,780.4L934.9,790.6L943.2,778.7L891.4,768.5Z" fill="#8fff00" stroke="#8fff00"/><path d="M701.1,744.7L763.8,752.0L772.3,740.4L709.6,733.3Z" fill="#71ff00" stroke="#71ff00"/><path d="M763.8,752.0L827.2,759.4L835.6,747.6L772.3,740.4Z" fill="#82ff00" stroke="#82ff00"/><path d="M827.2,759.4L891.4,768.5L899.7,756.7L835.6,747.6Z" fill="#91ff00" stroke="#91ff00"/><path d="M891.4,768.5L943.2,778.7L951.5,766.8L899.7,756.7Z" fill="#9bff00" stroke="#9bff00"/><path d="M709.6,733.3L772.3,740.4L780.6,728.9L718.0,721.9Z" fill="#7cff00" stroke="#7cff00"/><path d="M772.3,740.4L835.6,747.6L844.0,736.0L780.6,728.9Z" fill="#8dff00" stroke="#8dff00"/><path d="M835.6,747.6L899.7,756.7L908.0,744.9L844.0,736.0Z" fill="#9cff00" stroke="#9cff00"/><path d="M899.7,756.7L951.5,766.8L959.9,755.0L908.0,744.9Z" fill="#a6ff00" stroke="#a6ff00"/><path d="M718.0,721.9L780.6,728.9L789.1,719.0L726.5,712.2Z" fill="#85ff00" stroke="#85ff00"/><path d="M780.6,728.9L844.0,736.0L852.4,725.9L789.1,719.0Z" fill="#97ff00" stroke="#97ff00"/><path d="M844.0,736.0L908.0,744.9L916.4,734.7L852.4,725.9Z" fill="#a6ff00" stroke="#a6ff00"/><path d="M908.0,744.9L959.9,755.0L968.2,744.8L916.4,734.7Z" fill="#b0ff00" stroke="#b0ff00"/><path d="M726.5,712.2L789.1,719.0L797.5,709.2L734.9,702.5Z" fill="#8eff00" stroke="#8eff00"/><path d="M789.1,719.0L852.4,725.9L860.7,715.9L797.5,709.2Z" fill="#9fff00" stroke="#9fff00"/><path d="M852.4,725.9L916.4,734.7L924.7,724.6L860.7,715.9Z" fill="#afff00" stroke="#afff00"/><path d="M916.4,734.7L968.2,744.8L976.5,734.7L924.7,724.6Z" fill="#b9ff00" stroke="#b9ff00"/><path d="M734.9,702.5L797.5,709.2L805.9,698.7L743.3,692.2Z" fill="#96ff00" stroke="#96ff00"/><path d="M797.5,709.2L860.7,715.9L869.1,705.3L805.9,698.7Z" fill="#a8ff00" stroke="#a8ff00"/><path d="M860.7,715.9L924.7,724.6L933.0,713.9L869.1,705.3Z" fill="#b8ff00" stroke="#b8ff00"/><path d="M924.7,724.6L989.5,737.2L997.7,726.4L933.0,713.9Z" fill="#c2ff00" stroke="#c2ff00"/><path d="M743.3,692.2L805.9,698.7L814.2,688.2L751.7,681.9Z" fill="#a0ff00" stroke="#a0ff00"/><path d="M805.9,698.7L869.1,705.3L877.4,694.6L814.2,688.2Z" fill="#b1ff00" stroke="#b1ff00"/><path d="M869.1,705.3L933.0,713.9L941.3,703.1L877.4,694.6Z" fill="#c2ff00" stroke="#c2ff00"/><path d="M933.0,713.9L997.7,726.4L1006.0,715.6L941.3,703.1Z" fill="#ccff00" stroke="#ccff00"/><path d="M751.7,681.9L814.2,688.2L822.5,677.7L760.1,671.5Z" fill="#a9ff00" stroke="#a9ff00"/><path d="M814.2,688.2L877.4,694.6L885.7,684.0L822.5,677.7Z" fill="#bbff00" stroke="#bbff00"/><path d="M877.4,694.6L941.3,703.1L949.5,692.3L885.7,684.0Z" fill="#cbff00" stroke="#cbff00"/><path d="M941.3,703.1L1006.0,715.6L1014.2,704.8L949.5,692.3Z" fill="#d6ff00" stroke="#d6ff00"/><path d="M760.1,671.5L822.5,677.7L830.8,667.3L768.4,661.2Z" fill="#b3ff00" stroke="#b3ff00"/><path d="M822.5,677.7L885.7,684.0L893.9,673.4L830.8,667.3Z" fill="#c5ff00" stroke="#c5ff00"/><path d="M885.7,684.0L949.5,692.3L957.8,681.6L893.9,673.4Z" fill="#d5ff00" stroke="#d5ff00"/><path d="M949.5,692.3L1014.2,704.8L1022.4,694.0L957.8,681.6Z" fill="#e0ff00" stroke="#e0ff00"/><path d="M768.4,661.2L830.8,667.3L839.1,656.8L776.7,650.9Z" fill="#bcff00" stroke="#bcff00"/><path d="M830.8,667.3L893.9,673.4L902.2,662.8L839.1,656.8Z" fill="#ceff00" stroke="#ceff00"/><path d="M893.9,673.4L957.8,681.6L966.0,670.9L902.2,662.8Z" fill="#dfff00" stroke="#dfff00"/><path d="M957.8,681.6L1022.4,694.0L1030.5,683.3L966.0,670.9Z" fill="#eaff00" stroke="#eaff00"/><path d="M776.7,650.9L839.1,656.8L847.4,646.4L785.0,640.7Z" fill="#c6ff00" stroke="#c6ff00"/><path d="M839.1,656.8L902.2,662.8L910.4,652.2L847.4,646.4Z" fill="#d8ff00" stroke="#d8ff00"/><path d="M902.2,662.8L966.0,670.9L974.2,660.2L910.4,652.2Z" fill="#e9ff00" stroke="#e9ff00"/><path d="M966.0,670.9L1030.5,683.3L1038.7,672.6L974.2,660.2Z" fill="#f3ff00" stroke="#f3ff00"/><path d="M785.0,640.7L847.4,646.4L855.6,635.6L793.3,630.0Z" fill="#cfff00" stroke="#cfff00"/><path d="M847.4,646.4L910.4,652.2L918.6,641.2L855.6,635.6Z" fill="#e2ff00" stroke="#e2ff00"/><path d="M910.4,652.2L974.2,660.2L982.3,649.0L918.6,641.2Z" fill="#f3ff00" stroke="#f3ff00"/><path d="M974.2,660.2L1038.7,672.6L1046.8,661.4L982.3,649.0Z" fill="#feff00" stroke="#feff00"/><path d="M793.3,630.0L855.6,635.6L863.8,624.3L801.5,618.9Z" fill="#daff00" stroke="#daff00"/><path d="M855.6,635.6L918.6,641.2L926.8,629.8L863.8,624.3Z" fill="#edff00" stroke="#edff00"/><path d="M918.6,641.2L982.3,649.0L990.5,637.5L926.8,629.8Z" fill="#feff00" stroke="#feff00"/><path d="M982.3,649.0L1046.8,661.4L1054.9,649.8L990.5,637.5Z" fill="#fffa00" stroke="#fffa00"/><path d="M1046.8,661.4L1059.8,663.9L1067.9,652.3L1054.9,649.8Z" fill="#fff800" stroke="#fff800"/><path d="M801.5,618.9L863.8,624.3L872.0,613.1L809.7,607.8Z" fill="#e5ff00" stroke="#e5ff00"/><path d="M863.8,624.3L926.8,629.8L934.9,618.4L872.0,613.1Z" fill="#f8ff00" stroke="#f8ff00"/><path d="M926.8,629.8L990.5,637.5L998.6,626.0L934.9,618.4Z" fill="#fff900" stroke="#fff900"/><path d="M990.5,637.5L1054.9,649.8L1063.0,638.3L998.6,626.0Z" fill="#fff400" stroke="#fff400"/><path d="M1054.9,649.8L1067.9,652.3L1075.9,640.7L1063.0,638.3Z" fill="#fff100" stroke="#fff100"/><path d="M809.7,607.8L872.0,613.1L880.1,601.9L817.9,596.7Z" fill="#f1ff00" stroke="#f1ff00"/><path d="M872.0,613.1L934.9,618.4L943.0,607.0L880.1,601.9Z" fill="#fffc00" stroke="#fffc00"/><path d="M934.9,618.4L998.6,626.0L1006.7,614.5L943.0,607.0Z" fill="#fff300" stroke="#fff300"/><path d="M998.6,626.0L1063.0,638.3L1071.0,626.7L1006.7,614.5Z" fill="#ffed00" stroke="#ffed00"/><path d="M1063.0,638.3L1075.9,640.7L1084.0,629.2L1071.0,626.7Z" fill="#ffeb00" stroke="#ffeb00"/><path d="M817.9,596.7L880.1,601.9L888.3,590.7L826.1,585.7Z" fill="#fcff00" stroke="#fcff00"/><path d="M880.1,601.9L943.0,607.0L951.2,595.7L888.3,590.7Z" fill="#fff600" stroke="#fff600"/><path d="M943.0,607.0L1006.7,614.5L1014.7,603.0L951.2,595.7Z" fill="#ffed00" stroke="#ffed00"/><path d="M1006.7,614.5L1071.0,626.7L1079.1,615.2L1014.7,603.0Z" fill="#ffe700" stroke="#ffe700"/><path d="M1071.0,626.7L1084.0,629.2L1092.0,617.7L1079.1,615.2Z" fill="#ffe500" stroke="#ffe500"/><path d="M826.1,585.7L888.3,590.7L896.4,579.5L834.2,574.7Z" fill="#fffb00" stroke="#fffb00"/><path d="M888.3,590.7L951.2,595.7L959.2,584.4L896.4,579.5Z" fill="#fff000" stroke="#fff000"/><path d="M951.2,595.7L1014.7,603.0L1022.8,591.6L959.2,584.4Z" fill="#ffe700" stroke="#ffe700"/><path d="M1014.7,603.0L1079.1,615.2L1087.1,603.8L1022.8,591.6Z" fill="#ffe100" stroke="#ffe100"/><path d="M1079.1,615.2L1105.0,620.1L1113.0,608.6L1087.1,603.8Z" fill="#ffdf00" stroke="#ffdf00"/><path d="M834.2,574.7L896.4,579.5L904.5,568.4L842.4,563.8Z" fill="#fff500" stroke="#fff500"/><path d="M896.4,579.5L959.2,584.4L967.3,573.1L904.5,568.4Z" fill="#ffea00" stroke="#ffea00"/><path d="M959.2,584.4L1022.8,591.6L1030.8,580.2L967.3,573.1Z" fill="#ffe100" stroke="#ffe100"/><path d="M1022.8,591.6L1087.1,603.8L1095.1,592.3L1030.8,580.2Z" fill="#ffdb00" stroke="#ffdb00"/><path d="M1087.1,603.8L1113.0,608.6L1121.0,597.2L1095.1,592.3Z" fill="#ffd900" stroke="#ffd900"/><path d="M842.4,563.8L904.5,568.4L912.6,557.6L850.5,553.1Z" fill="#ffef00" stroke="#ffef00"/><path d="M904.5,568.4L967.3,573.1L975.4,562.1L912.6,557.6Z" fill="#ffe400" stroke="#ffe400"/><path d="M967.3,573.1L1030.8,580.2L1038.9,569.1L975.4,562.1Z" fill="#ffdb00" stroke="#ffdb00"/><path d="M1030.8,580.2L1095.1,592.3L1103.1,581.2L1038.9,569.1Z" fill="#ffd500" stroke="#ffd500"/><path d="M1095.1,592.3L1121.0,597.2L1128.9,586.1L1103.1,581.2Z" fill="#ffd300" stroke="#ffd300"/><path d="M850.5,553.1L912.6,557.6L920.7,546.8L858.6,542.5Z" fill="#ffe900" stroke="#ffe900"/><path d="M912.6,557.6L975.4,562.1L983.4,551.2L920.7,546.8Z" fill="#ffdf00" stroke="#ffdf00"/><path d="M975.4,562.1L1038.9,569.1L1046.9,558.1L983.4,551.2Z" fill="#ffd500" stroke="#ffd500"/><path d="M1038.9,569.1L1103.1,581.2L1111.0,570.1L1046.9,558.1Z" fill="#ffcf00" stroke="#ffcf00"/><path d="M1103.1,581.2L1128.9,586.1L1136.9,575.0L1111.0,570.1Z" fill="#ffcd00" stroke="#ffcd00"/><path d="M858.6,542.5L920.7,546.8L928.7,536.1L866.7,531.9Z" fill="#ffe400" stroke="#ffe400"/><path d="M920.7,546.8L983.4,551.2L991.4,540.3L928.7,536.1Z" fill="#ffd900" stroke="#ffd900"/><path d="M983.4,551.2L1046.9,558.1L1054.8,547.1L991.4,540.3Z" fill="#ffcf00" stroke="#ffcf00"/><path d="M1046.9,558.1L1111.0,570.1L1119.0,559.1L1054.8,547.1Z" fill="#ffc900" stroke="#ffc900"/><path d="M1111.0,570.1L1149.9,577.4L1157.8,566.3L1119.0,559.1Z" fill="#ffc700" stroke="#ffc700"/><path d="M866.7,531.9L928.7,536.1L936.8,525.4L874.7,521.3Z" fill="#ffde00" stroke="#ffde00"/><path d="M928.7,536.1L991.4,540.3L999.4,529.4L936.8,525.4Z" fill="#ffd300" stroke="#ffd300"/><path d="M991.4,540.3L1054.8,547.1L1062.8,536.1L999.4,529.4Z" fill="#ffc900" stroke="#ffc900"/><path d="M1054.8,547.1L1119.0,559.1L1126.9,548.0L1062.8,536.1Z" fill="#ffc300" stroke="#ffc300"/><path d="M1119.0,559.1L1157.8,566.3L1165.7,555.3L1126.9,548.0Z" fill="#ffc100" stroke="#ffc100"/><path d="M874.7,521.3L936.8,525.4L944.8,514.7L882.8,510.8Z" fill="#ffd800" stroke="#ffd800"/><path d="M936.8,525.4L999.4,529.4L1007.4,518.6L944.8,514.7Z" fill="#ffcd00" stroke="#ffcd00"/><path d="M999.4,529.4L1062.8,536.1L1070.8,525.1L1007.4,518.6Z" fill="#ffc300" stroke="#ffc300"/><path d="M1062.8,536.1L1126.9,548.0L1134.8,537.0L1070.8,525.1Z" fill="#ffbe00" stroke="#ffbe00"/><path d="M1126.9,548.0L1165.7,555.3L1173.6,544.3L1134.8,537.0Z" fill="#ffbb00" stroke="#ffbb00"/><path d="M882.8,510.8L944.8,514.7L952.8,505.9L890.9,502.1Z" fill="#ffd400" stroke="#ffd400"/><path d="M944.8,514.7L1007.4,518.6L1015.4,509.6L952.8,505.9Z" fill="#ffc800" stroke="#ffc800"/><path d="M1007.4,518.6L1070.8,525.1L1078.7,516.1L1015.4,509.6Z" fill="#ffbf00" stroke="#ffbf00"/><path d="M1070.8,525.1L1134.8,537.0L1142.7,528.0L1078.7,516.1Z" fill="#ffb900" stroke="#ffb900"/><path d="M1134.8,537.0L1186.5,546.7L1194.4,537.6L1142.7,528.0Z" fill="#ffb600" stroke="#ffb600"/><path d="M890.9,502.1L952.8,505.9L960.8,497.2L898.9,493.6Z" fill="#ffd000" stroke="#ffd000"/><path d="M952.8,505.9L1015.4,509.6L1023.4,500.9L960.8,497.2Z" fill="#ffc500" stroke="#ffc500"/><path d="M1015.4,509.6L1078.7,516.1L1086.7,507.2L1023.4,500.9Z" fill="#ffbb00" stroke="#ffbb00"/><path d="M1078.7,516.1L1142.7,528.0L1150.6,519.0L1086.7,507.2Z" fill="#ffb500" stroke="#ffb500"/><path d="M1142.7,528.0L1194.4,537.6L1202.3,528.7L1150.6,519.0Z" fill="#ffb200" stroke="#ffb200"/><path d="M898.9,493.6L960.8,497.2L968.8,487.8L907.0,484.4Z" fill="#ffcc00" stroke="#ffcc00"/><path d="M960.8,497.2L1023.4,500.9L1031.3,491.3L968.8,487.8Z" fill="#ffc000" stroke="#ffc000"/><path d="M1023.4,500.9L1086.7,507.2L1094.6,497.5L1031.3,491.3Z" fill="#ffb600" stroke="#ffb600"/><path d="M1086.7,507.2L1150.6,519.0L1158.5,509.3L1094.6,497.5Z" fill="#ffb100" stroke="#ffb100"/><path d="M1150.6,519.0L1202.3,528.7L1210.1,519.0L1158.5,509.3Z" fill="#ffae00" stroke="#ffae00"/><path d="M907.0,484.4L968.8,487.8L976.8,478.3L915.0,475.0Z" fill="#ffc700" stroke="#ffc700"/><path d="M968.8,487.8L1031.3,491.3L1039.3,481.7L976.8,478.3Z" fill="#ffbc00" stroke="#ffbc00"/><path d="M1031.3,491.3L1094.6,497.5L1102.4,487.8L1039.3,481.7Z" fill="#ffb200" stroke="#ffb200"/><path d="M1094.6,497.5L1158.5,509.3L1166.3,499.6L1102.4,487.8Z" fill="#ffac00" stroke="#ffac00"/><path d="M1158.5,509.3L1210.1,519.0L1217.9,509.2L1166.3,499.6Z" fill="#ffa900" stroke="#ffa900"/><path d="M915.0,475.0L976.8,478.3L984.7,468.9L922.9,465.7Z" fill="#ffc300" stroke="#ffc300"/><path d="M976.8,478.3L1039.3,481.7L1047.2,472.1L984.7,468.9Z" fill="#ffb700" stroke="#ffb700"/><path d="M1039.3,481.7L1102.4,487.8L1110.3,478.1L1047.2,472.1Z" fill="#ffad00" stroke="#ffad00"/><path d="M1102.4,487.8L1166.3,499.6L1174.2,489.8L1110.3,478.1Z" fill="#ffa700" stroke="#ffa700"/><path d="M1166.3,499.6L1230.8,511.6L1238.6,501.9L1174.2,489.8Z" fill="#ffa400" stroke="#ffa400"/><path d="M922.9,465.7L984.7,468.9L992.6,459.5L930.9,456.4Z" fill="#ffbe00" stroke="#ffbe00"/><path d="M984.7,468.9L1047.2,472.1L1055.0,462.5L992.6,459.5Z" fill="#ffb300" stroke="#ffb300"/><path d="M1047.2,472.1L1110.3,478.1L1118.1,468.4L1055.0,462.5Z" fill="#ffa800" stroke="#ffa800"/><path d="M1110.3,478.1L1174.2,489.8L1182.0,480.1L1118.1,468.4Z" fill="#ffa200" stroke="#ffa200"/><path d="M1174.2,489.8L1238.6,501.9L1246.4,492.1L1182.0,480.1Z" fill="#ff9f00" stroke="#ff9f00"/><path d="M930.9,456.4L992.6,459.5L1000.5,450.1L938.8,447.2Z" fill="#ffba00" stroke="#ffba00"/><path d="M992.6,459.5L1055.0,462.5L1062.9,453.0L1000.5,450.1Z" fill="#ffae00" stroke="#ffae00"/><path d="M1055.0,462.5L1118.1,468.4L1126.0,458.7L1062.9,453.0Z" fill="#ffa400" stroke="#ffa400"/><path d="M1118.1,468.4L1182.0,480.1L1189.7,470.4L1126.0,458.7Z" fill="#ff9e00" stroke="#ff9e00"/><path d="M1182.0,480.1L1246.4,492.1L1254.1,482.4L1189.7,470.4Z" fill="#ff9b00" stroke="#ff9b00"/><path d="M938.8,447.2L1000.5,450.1L1008.4,440.7L946.7,437.9Z" fill="#ffb500" stroke="#ffb500"/><path d="M1000.5,450.1L1062.9,453.0L1070.7,443.4L1008.4,440.7Z" fill="#ffa900" stroke="#ffa900"/><path d="M1062.9,453.0L1126.0,458.7L1133.8,449.1L1070.7,443.4Z" fill="#ff9f00" stroke="#ff9f00"/><path d="M1126.0,458.7L1189.7,470.4L1197.5,460.7L1133.8,449.1Z" fill="#ff9900" stroke="#ff9900"/><path d="M1189.7,470.4L1254.1,482.4L1261.8,472.7L1197.5,460.7Z" fill="#ff9600" stroke="#ff9600"/><path d="M946.7,437.9L1008.4,440.7L1016.3,431.1L954.6,428.6Z" fill="#ffb000" stroke="#ffb000"/><path d="M1008.4,440.7L1070.7,443.4L1078.6,433.7L1016.3,431.1Z" fill="#ffa500" stroke="#ffa500"/><path d="M1070.7,443.4L1133.8,449.1L1141.6,439.3L1078.6,433.7Z" fill="#ff9a00" stroke="#ff9a00"/><path d="M1133.8,449.1L1197.5,460.7L1205.2,450.9L1141.6,439.3Z" fill="#ff9400" stroke="#ff9400"/><path d="M1197.5,460.7L1261.8,472.7L1269.5,462.9L1205.2,450.9Z" fill="#ff9100" stroke="#ff9100"/><path d="M954.6,428.6L1016.3,431.1L1024.1,421.6L962.5,419.2Z" fill="#ffac00" stroke="#ffac00"/><path d="M1016.3,431.1L1078.6,433.7L1086.4,424.1L1024.1,421.6Z" fill="#ffa000" stroke="#ffa000"/><path d="M1078.6,433.7L1141.6,439.3L1149.3,429.5L1086.4,424.1Z" fill="#ff9500" stroke="#ff9500"/><path d="M1141.6,439.3L1205.2,450.9L1213.0,441.1L1149.3,429.5Z" fill="#ff8f00" stroke="#ff8f00"/><path d="M1205.2,450.9L1269.5,462.9L1277.2,453.0L1213.0,441.1Z" fill="#ff8c00" stroke="#ff8c00"/><path d="M1269.5,462.9L1282.5,465.3L1290.1,455.4L1277.2,453.0Z" fill="#ff8b00" stroke="#ff8b00"/><path d="M962.5,419.2L1024.1,421.6L1031.9,412.1L970.4,409.8Z" fill="#ffa700" stroke="#ffa700"/><path d="M1024.1,421.6L1086.4,424.1L1094.2,414.4L1031.9,412.1Z" fill="#ff9b00" stroke="#ff9b00"/><path d="M1086.4,424.1L1149.3,429.5L1157.1,419.7L1094.2,414.4Z" fill="#ff9000" stroke="#ff9000"/><path d="M1149.3,429.5L1213.0,441.1L1220.7,431.3L1157.1,419.7Z" fill="#ff8a00" stroke="#ff8a00"/><path d="M1213.0,441.1L1277.2,453.0L1284.9,443.2L1220.7,431.3Z" fill="#ff8800" stroke="#ff8800"/><path d="M1277.2,453.0L1290.1,455.4L1297.8,445.6L1284.9,443.2Z" fill="#ff8600" stroke="#ff8600"/><path d="M970.4,409.8L1031.9,412.1L1039.7,402.6L978.2,400.4Z" fill="#ffa200" stroke="#ffa200"/><path d="M1031.9,412.1L1094.2,414.4L1101.9,404.8L1039.7,402.6Z" fill="#ff9600" stroke="#ff9600"/><path d="M1094.2,414.4L1157.1,419.7L1164.8,410.0L1101.9,404.8Z" fill="#ff8b00" stroke="#ff8b00"/><path d="M1157.1,419.7L1220.7,431.3L1228.4,421.5L1164.8,410.0Z" fill="#ff8500" stroke="#ff8500"/><path d="M1220.7,431.3L1284.9,443.2L1292.5,433.4L1228.4,421.5Z" fill="#ff8300" stroke="#ff8300"/><path d="M1284.9,443.2L1310.7,448.0L1318.4,438.2L1292.5,433.4Z" fill="#ff8100" stroke="#ff8100"/><path d="M978.2,400.4L1039.7,402.6L1047.5,393.1L986.0,391.1Z" fill="#ff9d00" stroke="#ff9d00"/><path d="M1039.7,402.6L1101.9,404.8L1109.7,395.2L1047.5,393.1Z" fill="#ff9100" stroke="#ff9100"/><path d="M1101.9,404.8L1164.8,410.0L1172.5,400.3L1109.7,395.2Z" fill="#ff8700" stroke="#ff8700"/><path d="M1164.8,410.0L1228.4,421.5L1236.0,411.8L1172.5,400.3Z" fill="#ff8100" stroke="#ff8100"/><path d="M1228.4,421.5L1292.5,433.4L1300.1,423.6L1236.0,411.8Z" fill="#ff7e00" stroke="#ff7e00"/><path d="M1292.5,433.4L1318.4,438.2L1326.0,428.4L1300.1,423.6Z" fill="#ff7c00" stroke="#ff7c00"/><path d="M986.0,391.1L1047.5,393.1L1055.3,383.7L993.8,381.8Z" fill="#ff9900" stroke="#ff9900"/><path d="M1047.5,393.1L1109.7,395.2L1117.4,385.6L1055.3,383.7Z" fill="#ff8c00" stroke="#ff8c00"/><path d="M1109.7,395.2L1172.5,400.3L1180.2,390.6L1117.4,385.6Z" fill="#ff8200" stroke="#ff8200"/><path d="M1172.5,400.3L1236.0,411.8L1243.7,402.1L1180.2,390.6Z" fill="#ff7c00" stroke="#ff7c00"/><path d="M1236.0,411.8L1300.1,423.6L1307.7,413.8L1243.7,402.1Z" fill="#ff7900" stroke="#ff7900"/><path d="M1300.1,423.6L1326.0,428.4L1333.5,418.6L1307.7,413.8Z" fill="#ff7700" stroke="#ff7700"/><path d="M993.8,381.8L1055.3,383.7L1063.0,374.3L1001.6,372.6Z" fill="#ff9400" stroke="#ff9400"/><path d="M1055.3,383.7L1117.4,385.6L1125.1,376.0L1063.0,374.3Z" fill="#ff8800" stroke="#ff8800"/><path d="M1117.4,385.6L1180.2,390.6L1187.9,380.9L1125.1,376.0Z" fill="#ff7d00" stroke="#ff7d00"/><path d="M1180.2,390.6L1243.7,402.1L1251.3,392.4L1187.9,380.9Z" fill="#ff7700" stroke="#ff7700"/><path d="M1243.7,402.1L1307.7,413.8L1315.3,404.1L1251.3,392.4Z" fill="#ff7400" stroke="#ff7400"/><path d="M1307.7,413.8L1346.5,421.0L1354.0,411.3L1315.3,404.1Z" fill="#ff7200" stroke="#ff7200"/><path d="M1001.6,372.6L1063.0,374.3L1070.7,365.2L1009.4,363.6Z" fill="#ff8f00" stroke="#ff8f00"/><path d="M1063.0,374.3L1125.1,376.0L1132.8,366.8L1070.7,365.2Z" fill="#ff8300" stroke="#ff8300"/><path d="M1125.1,376.0L1187.9,380.9L1195.5,371.6L1132.8,366.8Z" fill="#ff7800" stroke="#ff7800"/><path d="M1187.9,380.9L1251.3,392.4L1258.9,383.0L1195.5,371.6Z" fill="#ff7200" stroke="#ff7200"/><path d="M1251.3,392.4L1315.3,404.1L1322.9,394.7L1258.9,383.0Z" fill="#ff6f00" stroke="#ff6f00"/><path d="M1315.3,404.1L1354.0,411.3L1361.6,401.9L1322.9,394.7Z" fill="#ff6d00" stroke="#ff6d00"/><path d="M1009.4,363.6L1070.7,365.2L1078.5,356.1L1017.1,354.7Z" fill="#ff8b00" stroke="#ff8b00"/><path d="M1070.7,365.2L1132.8,366.8L1140.5,357.6L1078.5,356.1Z" fill="#ff7e00" stroke="#ff7e00"/><path d="M1132.8,366.8L1195.5,371.6L1203.2,362.2L1140.5,357.6Z" fill="#ff7300" stroke="#ff7300"/><path d="M1195.5,371.6L1258.9,383.0L1266.5,373.6L1203.2,362.2Z" fill="#ff6d00" stroke="#ff6d00"/><path d="M1258.9,383.0L1322.9,394.7L1330.4,385.3L1266.5,373.6Z" fill="#ff6b00" stroke="#ff6b00"/><path d="M1322.9,394.7L1374.5,404.3L1382.0,394.9L1330.4,385.3Z" fill="#ff6800" stroke="#ff6800"/><path d="M1017.1,354.7L1078.5,356.1L1086.1,347.0L1024.8,345.7Z" fill="#ff8600" stroke="#ff8600"/><path d="M1078.5,356.1L1140.5,357.6L1148.1,348.4L1086.1,347.0Z" fill="#ff7a00" stroke="#ff7a00"/><path d="M1140.5,357.6L1203.2,362.2L1210.8,352.9L1148.1,348.4Z" fill="#ff6f00" stroke="#ff6f00"/><path d="M1203.2,362.2L1266.5,373.6L1274.1,364.3L1210.8,352.9Z" fill="#ff6900" stroke="#ff6900"/><path d="M1266.5,373.6L1330.4,385.3L1338.0,376.0L1274.1,364.3Z" fill="#ff6600" stroke="#ff6600"/><path d="M1330.4,385.3L1382.0,394.9L1389.5,385.5L1338.0,376.0Z" fill="#ff6400" stroke="#ff6400"/><path d="M1024.8,345.7L1086.1,347.0L1093.8,338.0L1032.5,336.9Z" fill="#ff8200" stroke="#ff8200"/><path d="M1086.1,347.0L1148.1,348.4L1155.7,339.2L1093.8,338.0Z" fill="#ff7500" stroke="#ff7500"/><path d="M1148.1,348.4L1210.8,352.9L1218.4,343.7L1155.7,339.2Z" fill="#ff6a00" stroke="#ff6a00"/><path d="M1210.8,352.9L1274.1,364.3L1281.6,355.0L1218.4,343.7Z" fill="#ff6400" stroke="#ff6400"/><path d="M1274.1,364.3L1338.0,376.0L1345.5,366.7L1281.6,355.0Z" fill="#ff6100" stroke="#ff6100"/><path d="M1338.0,376.0L1389.5,385.5L1397.0,376.2L1345.5,366.7Z" fill="#ff5f00" stroke="#ff5f00"/><path d="M1032.5,336.9L1093.8,338.0L1101.5,329.0L1040.2,328.0Z" fill="#ff7e00" stroke="#ff7e00"/><path d="M1093.8,338.0L1155.7,339.2L1163.4,330.0L1101.5,329.0Z" fill="#ff7100" stroke="#ff7100"/><path d="M1155.7,339.2L1218.4,343.7L1225.9,334.4L1163.4,330.0Z" fill="#ff6600" stroke="#ff6600"/><path d="M1218.4,343.7L1281.6,355.0L1289.2,345.7L1225.9,334.4Z" fill="#ff5f00" stroke="#ff5f00"/><path d="M1281.6,355.0L1345.5,366.7L1353.0,357.3L1289.2,345.7Z" fill="#ff5d00" stroke="#ff5d00"/><path d="M1345.5,366.7L1409.9,378.6L1417.4,369.2L1353.0,357.3Z" fill="#ff5a00" stroke="#ff5a00"/><path d="M1040.2,328.0L1101.5,329.0L1109.1,320.0L1047.9,319.1Z" fill="#ff7900" stroke="#ff7900"/><path d="M1101.5,329.0L1163.4,330.0L1171.0,320.9L1109.1,320.0Z" fill="#ff6c00" stroke="#ff6c00"/><path d="M1163.4,330.0L1225.9,334.4L1233.5,325.2L1171.0,320.9Z" fill="#ff6100" stroke="#ff6100"/><path d="M1225.9,334.4L1289.2,345.7L1296.7,336.5L1233.5,325.2Z" fill="#ff5b00" stroke="#ff5b00"/><path d="M1289.2,345.7L1353.0,357.3L1360.4,348.1L1296.7,336.5Z" fill="#ff5800" stroke="#ff5800"/><path d="M1353.0,357.3L1417.4,369.2L1424.8,359.9L1360.4,348.1Z" fill="#ff5600" stroke="#ff5600"/><path d="M1047.9,319.1L1109.1,320.0L1116.7,311.0L1055.5,310.3Z" fill="#ff7500" stroke="#ff7500"/><path d="M1109.1,320.0L1171.0,320.9L1178.5,311.8L1116.7,311.0Z" fill="#ff6800" stroke="#ff6800"/><path d="M1171.0,320.9L1233.5,325.2L1241.0,315.9L1178.5,311.8Z" fill="#ff5c00" stroke="#ff5c00"/><path d="M1233.5,325.2L1296.7,336.5L1304.2,327.2L1241.0,315.9Z" fill="#ff5600" stroke="#ff5600"/><path d="M1296.7,336.5L1360.4,348.1L1367.9,338.8L1304.2,327.2Z" fill="#ff5400" stroke="#ff5400"/><path d="M1360.4,348.1L1424.8,359.9L1432.2,350.6L1367.9,338.8Z" fill="#ff5100" stroke="#ff5100"/><path d="M1424.8,359.9L1437.8,362.3L1445.2,353.0L1432.2,350.6Z" fill="#ff5000" stroke="#ff5000"/><path d="M1055.5,310.3L1116.7,311.0L1124.3,301.6L1063.2,301.0Z" fill="#ff7000" stroke="#ff7000"/><path d="M1116.7,311.0L1178.5,311.8L1186.1,302.2L1124.3,301.6Z" fill="#ff6300" stroke="#ff6300"/><path d="M1178.5,311.8L1241.0,315.9L1248.6,306.2L1186.1,302.2Z" fill="#ff5700" stroke="#ff5700"/><path d="M1241.0,315.9L1304.2,327.2L1311.7,317.5L1248.6,306.2Z" fill="#ff5100" stroke="#ff5100"/><path d="M1304.2,327.2L1367.9,338.8L1375.3,329.0L1311.7,317.5Z" fill="#ff4f00" stroke="#ff4f00"/><path d="M1367.9,338.8L1432.2,350.6L1439.6,340.8L1375.3,329.0Z" fill="#ff4d00" stroke="#ff4d00"/><path d="M1432.2,350.6L1445.2,353.0L1452.5,343.2L1439.6,340.8Z" fill="#ff4b00" stroke="#ff4b00"/><path d="M1063.2,301.0L1124.3,301.6L1131.9,292.1L1070.8,291.6Z" fill="#ff6b00" stroke="#ff6b00"/><path d="M1124.3,301.6L1186.1,302.2L1193.6,292.6L1131.9,292.1Z" fill="#ff5e00" stroke="#ff5e00"/><path d="M1186.1,302.2L1248.6,306.2L1256.1,296.5L1193.6,292.6Z" fill="#ff5200" stroke="#ff5200"/><path d="M1248.6,306.2L1311.7,317.5L1319.1,307.7L1256.1,296.5Z" fill="#ff4c00" stroke="#ff4c00"/><path d="M1311.7,317.5L1375.3,329.0L1382.8,319.2L1319.1,307.7Z" fill="#ff4a00" stroke="#ff4a00"/><path d="M1375.3,329.0L1439.6,340.8L1447.0,331.0L1382.8,319.2Z" fill="#ff4700" stroke="#ff4700"/><path d="M1439.6,340.8L1465.5,345.6L1472.8,335.8L1447.0,331.0Z" fill="#ff4600" stroke="#ff4600"/></g>
<path d="M349.5,1422.6L425.6,1440.7L502.7,1459.0M357.6,1393.6L433.7,1411.4L510.8,1429.4M365.5,1362.4L441.7,1379.9L518.8,1397.6M373.6,1333.7L449.8,1350.9L527.0,1368.3M381.8,1307.7L458.1,1324.6L548.3,1344.6M390.1,1281.7L466.4,1298.4L556.6,1318.0M398.5,1257.9L474.8,1274.3L565.0,1293.6M407.0,1236.4L483.3,1252.5L573.6,1271.6M415.6,1214.9L491.9,1230.8L582.1,1249.5M424.1,1193.5L500.4,1209.1L590.7,1227.5M432.8,1176.0L509.1,1191.4L599.4,1209.5M441.6,1159.6L517.9,1174.7L608.1,1192.6M450.4,1143.2L539.5,1160.6L629.9,1178.5M459.2,1126.9L548.2,1144.0L638.6,1161.6M468.0,1110.6L557.0,1127.4L647.3,1144.8M476.7,1094.3L565.7,1110.9L656.0,1128.0M485.4,1077.4L574.4,1093.7L664.7,1110.6M494.1,1060.5L583.0,1076.5L673.3,1093.1M502.7,1043.6L591.6,1059.4L681.9,1075.7M511.4,1026.8L600.3,1042.3L690.5,1058.4M520.0,1009.9L608.9,1025.2L712.1,1043.8M528.8,996.4L617.6,1011.4L720.8,1029.8M537.5,983.0L626.4,997.8L729.5,1015.9M546.3,969.7L635.1,984.2L738.2,1002.0M555.0,956.3L643.8,970.6L746.9,988.2M563.8,943.0L665.2,959.1L768.5,977.1M572.5,929.8L673.9,945.5L777.1,963.3M581.1,916.5L682.5,932.0L785.7,949.6M589.8,903.3L691.1,918.5L794.3,935.9M598.4,890.1L699.7,905.0L802.8,922.2M607.1,878.4L708.4,893.1L824.4,912.7M615.8,867.1L717.0,881.5L833.0,900.9M624.5,855.8L725.6,870.0L841.5,889.2M633.1,844.2L734.2,858.1L850.1,877.0M641.7,831.0L742.7,844.6L858.5,863.3M650.2,817.8L763.9,832.8L879.9,852.2M658.7,804.6L772.3,819.3L888.3,838.6M667.1,791.5L780.8,805.9L896.7,824.9M675.6,779.0L789.2,793.1L905.1,811.9M684.1,767.5L797.7,781.3L913.5,800.0M692.6,756.1L806.1,769.6L934.9,790.6M701.1,744.7L814.5,757.9L943.2,778.7M709.6,733.3L822.9,746.2L951.5,766.8M718.0,721.9L831.3,734.5L959.9,755.0M726.5,712.2L839.7,724.5L968.2,744.8M734.9,702.5L860.7,715.9L989.5,737.2M743.3,692.2L869.1,705.3L997.7,726.4M751.7,681.9L877.4,694.6L1006.0,715.6M760.1,671.5L885.7,684.0L1014.2,704.8M768.4,661.2L893.9,673.4L1022.4,694.0M776.7,650.9L902.2,662.8L1030.5,683.3M785.0,640.7L910.4,652.2L1038.7,672.6M793.3,630.0L918.6,641.2L1059.8,663.9M801.5,618.9L926.8,629.8L1067.9,652.3M809.7,607.8L934.9,618.4L1075.9,640.7M817.9,596.7L943.0,607.0L1084.0,629.2M826.1,585.7L963.8,596.7L1105.0,620.1M834.2,574.7L971.9,585.4L1113.0,608.6M842.4,563.8L980.0,574.0L1121.0,597.2M850.5,553.1L988.0,563.0L1128.9,586.1M858.6,542.5L996.0,552.1L1149.9,577.4M866.7,531.9L1004.0,541.2L1157.8,566.3M874.7,521.3L1012.0,530.2L1165.7,555.3M882.8,510.8L1032.7,520.2L1186.5,546.7M890.9,502.1L1040.6,511.2L1194.4,537.6M898.9,493.6L1048.6,502.3L1202.3,528.7M907.0,484.4L1056.5,492.7L1210.1,519.0M915.0,475.0L1064.4,483.0L1230.8,511.6M922.9,465.7L1072.3,473.4L1238.6,501.9M930.9,456.4L1080.2,463.7L1246.4,492.1M938.8,447.2L1088.0,454.1L1254.1,482.4M946.7,437.9L1095.9,444.5L1261.8,472.7M954.6,428.6L1116.3,435.3L1282.5,465.3M962.5,419.2L1124.0,425.6L1290.1,455.4M970.4,409.8L1131.8,415.8L1310.7,448.0M978.2,400.4L1139.6,406.1L1318.4,438.2M986.0,391.1L1147.3,396.4L1326.0,428.4M993.8,381.8L1167.6,388.3L1346.5,421.0M1001.6,372.6L1175.3,378.6L1354.0,411.3M1009.4,363.6L1182.9,369.3L1374.5,404.3M1017.1,354.7L1190.6,360.0L1382.0,394.9M1024.8,345.7L1198.2,350.7L1389.5,385.5M1032.5,336.9L1218.4,343.7L1409.9,378.6M1040.2,328.0L1225.9,334.4L1417.4,369.2M1047.9,319.1L1233.5,325.2L1437.8,362.3M1055.5,310.3L1241.0,315.9L1445.2,353.0M1063.2,301.0L1261.1,308.5L1465.5,345.6M1070.8,291.6L1268.6,298.7L1472.8,335.8" fill="none" stroke="#000" stroke-width="4" stroke-opacity="0.8"/>
<path d="M349.5,1422.6L357.6,1393.6L365.5,1362.4L373.6,1333.7L381.8,1307.7L390.1,1281.7L398.5,1257.9L407.0,1236.4L415.6,1214.9L424.1,1193.5L432.8,1176.0L441.6,1159.6L450.4,1143.2L459.2,1126.9L468.0,1110.6L476.7,1094.3L485.4,1077.4L494.1,1060.5L502.7,1043.6L511.4,1026.8L520.0,1009.9L528.8,996.4L537.5,983.0L546.3,969.7L555.0,956.3L563.8,943.0L572.5,929.8L581.1,916.5L589.8,903.3L598.4,890.1L607.1,878.4L615.8,867.1L624.5,855.8L633.1,844.2L641.7,831.0L650.2,817.8L658.7,804.6L667.1,791.5L675.6,779.0L684.1,767.5L692.6,756.1L701.1,744.7L709.6,733.3L718.0,721.9L726.5,712.2L734.9,702.5L743.3,692.2L751.7,681.9L760.1,671.5L768.4,661.2L776.7,650.9L785.0,640.7L793.3,630.0L801.5,618.9L809.7,607.8L817.9,596.7L826.1,585.7L834.2,574.7L842.4,563.8L850.5,553.1L858.6,542.5L866.7,531.9L874.7,521.3L882.8,510.8L890.9,502.1L898.9,493.6L907.0,484.4L915.0,475.0L922.9,465.7L930.9,456.4L938.8,447.2L946.7,437.9L954.6,428.6L962.5,419.2L970.4,409.8L978.2,400.4L986.0,391.1L993.8,381.8L1001.6,372.6L1009.4,363.6L1017.1,354.7L1024.8,345.7L1032.5,336.9L1040.2,328.0L1047.9,319.1L1055.5,310.3L1063.2,301.0L1070.8,291.6M362.1,1425.6L370.2,1396.6L378.1,1365.3L386.2,1336.5L394.5,1310.5L402.7,1284.5L411.1,1260.6L419.7,1239.1L428.2,1217.6L436.7,1196.1L445.5,1178.5L454.3,1162.1L463.1,1145.7L471.8,1129.3L480.6,1113.0L489.3,1096.7L498.0,1079.7L506.7,1062.8L515.3,1045.8L524.0,1029.0L532.6,1012.1L541.4,998.5L550.2,985.1L558.9,971.7L567.6,958.4L576.3,945.0L585.0,931.7L593.7,918.4L602.4,905.2L611.0,892.0L619.7,880.3L628.4,868.9L637.0,857.6L645.7,845.9L654.2,832.7L662.7,819.4L671.2,806.3L679.7,793.1L688.1,780.6L696.6,769.1L705.1,757.6L713.6,746.1L722.0,734.7L730.5,723.3L738.9,713.6L747.4,703.8L755.8,693.5L764.1,683.1L772.5,672.8L780.8,662.4L789.2,652.1L797.4,641.8L805.7,631.1L813.9,620.0L822.1,608.8L830.3,597.8L838.5,586.7L846.6,575.7L854.7,564.7L862.9,554.0L871.0,543.3L879.0,532.7L887.1,522.1L895.1,511.5L903.2,502.9L911.3,494.4L919.3,485.1L927.3,475.7L935.2,466.4L943.2,457.0L951.1,447.8L959.0,438.5L966.9,429.1L974.8,419.6L982.6,410.2L990.5,400.9L998.3,391.5L1006.1,382.2L1013.8,372.9L1021.6,363.9L1029.3,354.9L1037.0,346.0L1044.7,337.1L1052.4,328.2L1060.1,319.3L1067.7,310.4L1075.3,301.1L1082.9,291.7M374.8,1428.6L382.8,1399.5L390.8,1368.2L398.9,1339.4L407.1,1313.3L415.4,1287.2L423.8,1263.3L432.4,1241.8L440.9,1220.2L449.4,1198.7L458.2,1181.1L467.0,1164.6L475.7,1148.2L484.5,1131.8L493.3,1115.4L502.0,1099.0L510.7,1082.0L519.3,1065.0L528.0,1048.1L536.6,1031.2L545.2,1014.3L554.0,1000.7L562.8,987.2L571.5,973.8L580.3,960.4L589.0,947.0L597.7,933.7L606.3,920.4L615.0,907.1L623.6,893.8L632.3,882.1L641.0,870.7L649.6,859.4L658.2,847.6L666.7,834.4L675.3,821.1L683.7,807.9L692.2,794.7L700.7,782.1L709.2,770.6L717.7,759.1L726.1,747.6L734.6,736.1L743.0,724.7L751.4,714.9L759.9,705.2L768.3,694.8L776.6,684.4L785.0,674.0L793.3,663.6L801.6,653.3L809.9,643.0L818.1,632.2L826.4,621.0L834.6,609.9L842.7,598.8L850.9,587.7L859.0,576.6L867.1,565.6L875.3,554.9L883.3,544.2L891.4,533.6L899.5,522.9L907.5,512.3L915.6,503.6L923.6,495.1L931.6,485.7L939.6,476.4L947.6,467.0L955.5,457.6L963.4,448.3L971.3,439.0L979.2,429.6L987.1,420.1L994.9,410.7L1002.7,401.3L1010.5,391.9L1018.3,382.6L1026.1,373.2L1033.8,364.2L1041.6,355.2L1049.3,346.3L1057.0,337.3L1064.6,328.4L1072.3,319.5L1079.9,310.6L1087.5,301.2L1095.1,291.8M387.4,1431.6L395.5,1402.5L403.5,1371.1L411.6,1342.3L419.8,1316.1L428.1,1290.0L436.5,1266.1L445.1,1244.4L453.6,1222.8L462.1,1201.2L470.9,1183.7L479.7,1167.1L488.4,1150.7L497.2,1134.2L505.9,1117.8L514.7,1101.4L523.4,1084.3L532.0,1067.3L540.7,1050.3L549.3,1033.4L557.9,1016.5L566.7,1002.8L575.4,989.3L584.2,975.9L592.9,962.4L601.6,949.0L610.3,935.6L619.0,922.3L627.6,909.0L636.2,895.7L644.9,883.9L653.6,872.5L662.2,861.1L670.8,849.4L679.3,836.0L687.8,822.8L696.3,809.5L704.8,796.3L713.2,783.7L721.7,772.1L730.2,760.6L738.7,749.1L747.1,737.6L755.5,726.1L764.0,716.3L772.4,706.5L780.8,696.1L789.1,685.7L797.5,675.2L805.8,664.8L814.1,654.5L822.4,644.1L830.6,633.3L838.8,622.1L847.0,611.0L855.2,599.8L863.3,588.7L871.5,577.6L879.6,566.5L887.7,555.8L895.8,545.1L903.8,534.4L911.9,523.7L919.9,513.1L928.0,504.4L936.0,495.8L944.0,486.4L952.0,477.0L959.9,467.6L967.9,458.2L975.8,448.9L983.7,439.6L991.5,430.1L999.4,420.6L1007.2,411.2L1015.0,401.7L1022.8,392.3L1030.6,382.9L1038.4,373.6L1046.1,364.5L1053.8,355.5L1061.5,346.5L1069.2,337.5L1076.9,328.6L1084.5,319.7L1092.2,310.7L1099.8,301.3L1107.4,291.9M400.1,1434.6L408.2,1405.4L416.2,1374.0L424.3,1345.1L432.6,1318.9L440.8,1292.8L449.2,1268.8L457.8,1247.1L466.3,1225.5L474.8,1203.9L483.6,1186.2L492.4,1169.7L501.2,1153.1L509.9,1136.6L518.7,1120.2L527.4,1103.8L536.1,1086.7L544.7,1069.6L553.4,1052.6L562.0,1035.6L570.6,1018.6L579.4,1005.0L588.1,991.4L596.9,977.9L605.6,964.5L614.3,951.0L623.0,937.6L631.6,924.2L640.2,910.9L648.9,897.6L657.5,885.7L666.2,874.3L674.8,862.9L683.4,851.1L691.9,837.7L700.4,824.4L708.9,811.1L717.4,797.9L725.8,785.2L734.3,773.6L742.8,762.1L751.2,750.5L759.7,739.0L768.1,727.5L776.5,717.7L784.9,707.8L793.3,697.4L801.7,686.9L810.0,676.5L818.3,666.1L826.6,655.7L834.9,645.3L843.1,634.4L851.3,623.2L859.5,612.0L867.6,600.8L875.8,589.7L883.9,578.6L892.0,567.5L900.1,556.7L908.2,545.9L916.3,535.2L924.3,524.5L932.3,513.9L940.4,505.1L948.4,496.5L956.4,487.1L964.4,477.7L972.3,468.3L980.2,458.9L988.1,449.5L996.0,440.1L1003.9,430.6L1011.7,421.1L1019.6,411.6L1027.4,402.2L1035.2,392.7L1042.9,383.3L1050.7,373.9L1058.4,364.9L1066.1,355.8L1073.8,346.8L1081.5,337.8L1089.2,328.8L1096.8,319.8L1104.4,310.9L1112.0,301.4L1119.6,292.0M412.9,1437.7L421.0,1408.4L428.9,1377.0L437.0,1348.0L445.3,1321.8L453.6,1295.6L462.0,1271.5L470.5,1249.8L479.1,1228.1L487.6,1206.5L496.3,1188.8L505.1,1172.2L513.9,1155.6L522.7,1139.1L531.4,1122.6L540.1,1106.1L548.8,1089.0L557.5,1071.9L566.1,1054.9L574.7,1037.8L583.3,1020.8L592.1,1007.1L600.8,993.6L609.6,980.0L618.3,966.5L627.0,953.0L635.6,939.6L644.3,926.2L652.9,912.8L661.5,899.4L670.2,887.6L678.9,876.1L687.5,864.7L696.1,852.8L704.6,839.4L713.1,826.1L721.5,812.8L730.0,799.5L738.5,786.8L746.9,775.2L755.4,763.6L763.8,752.0L772.3,740.4L780.6,728.9L789.1,719.0L797.5,709.2L805.9,698.7L814.2,688.2L822.5,677.7L830.8,667.3L839.1,656.8L847.4,646.4L855.6,635.6L863.8,624.3L872.0,613.1L880.1,601.9L888.3,590.7L896.4,579.5L904.5,568.4L912.6,557.6L920.7,546.8L928.7,536.1L936.8,525.4L944.8,514.7L952.8,505.9L960.8,497.2L968.8,487.8L976.8,478.3L984.7,468.9L992.6,459.5L1000.5,450.1L1008.4,440.7L1016.3,431.1L1024.1,421.6L1031.9,412.1L1039.7,402.6L1047.5,393.1L1055.3,383.7L1063.0,374.3L1070.7,365.2L1078.5,356.1L1086.1,347.0L1093.8,338.0L1101.5,329.0L1109.1,320.0L1116.7,311.0L1124.3,301.6L1131.9,292.1M425.6,1440.7L433.7,1411.4L441.7,1379.9L449.8,1350.9L458.1,1324.6L466.4,1298.4L474.8,1274.3L483.3,1252.5L491.9,1230.8L500.4,1209.1L509.1,1191.4L517.9,1174.7L526.7,1158.1L535.4,1141.6L544.2,1125.0L552.9,1108.5L561.6,1091.4L570.2,1074.2L578.9,1057.1L587.5,1040.1L596.1,1023.0L604.8,1009.3L613.6,995.7L622.3,982.1L631.0,968.6L639.7,955.0L648.4,941.6L657.0,928.1L665.6,914.7L674.2,901.3L682.9,889.4L691.5,877.9L700.2,866.4L708.8,854.6L717.3,841.1L725.7,827.8L734.2,814.4L742.7,801.1L751.1,788.4L759.6,776.7L768.0,765.1L776.5,753.4L784.9,741.9L793.3,730.3L801.7,720.4L810.1,710.5L818.5,700.0L826.8,689.5L835.1,679.0L843.4,668.5L851.7,658.0L859.9,647.6L868.2,636.7L876.4,625.4L884.5,614.1L892.7,602.9L900.8,591.7L908.9,580.5L917.0,569.3L925.1,558.5L933.2,547.7L941.2,536.9L949.2,526.2L957.2,515.4L965.3,506.6L973.3,498.0L981.3,488.5L989.2,479.0L997.1,469.5L1005.1,460.1L1013.0,450.6L1020.8,441.2L1028.7,431.7L1036.5,422.1L1044.3,412.5L1052.1,403.0L1059.9,393.5L1067.6,384.1L1075.4,374.6L1083.1,365.5L1090.8,356.4L1098.5,347.3L1106.2,338.2L1113.8,329.2L1121.4,320.2L1129.0,311.2L1136.6,301.7L1144.2,292.2M438.4,1443.7L446.5,1414.4L454.5,1382.8L462.6,1353.8L470.9,1327.4L479.2,1301.1L487.6,1277.0L496.1,1255.2L504.7,1233.4L513.2,1211.7L521.9,1193.9L530.7,1177.3L539.5,1160.6L548.2,1144.0L557.0,1127.4L565.7,1110.9L574.4,1093.7L583.0,1076.5L591.6,1059.4L600.3,1042.3L608.9,1025.2L617.6,1011.4L626.4,997.8L635.1,984.2L643.8,970.6L652.4,957.1L661.1,943.5L669.7,930.1L678.4,916.6L687.0,903.2L695.6,891.3L704.3,879.7L712.9,868.2L721.5,856.3L730.0,842.9L738.4,829.4L746.9,816.0L755.3,802.7L763.8,789.9L772.2,778.2L780.7,766.6L789.1,754.9L797.5,743.3L805.9,731.7L814.3,721.8L822.7,711.9L831.1,701.4L839.4,690.8L847.7,680.2L856.0,669.7L864.3,659.2L872.5,648.7L880.7,637.8L888.9,626.5L897.1,615.2L905.2,603.9L913.4,592.7L921.5,581.5L929.5,570.3L937.6,559.4L945.7,548.6L953.7,537.8L961.7,527.0L969.7,516.2L977.8,507.4L985.8,498.7L993.7,489.2L1001.7,479.7L1009.6,470.2L1017.5,460.7L1025.4,451.2L1033.3,441.8L1041.1,432.2L1048.9,422.6L1056.7,413.0L1064.5,403.5L1072.3,393.9L1080.0,384.4L1087.8,375.0L1095.5,365.8L1103.2,356.7L1110.9,347.6L1118.5,338.5L1126.1,329.4L1133.8,320.4L1141.4,311.3L1148.9,301.8L1156.5,292.3M451.2,1446.8L459.3,1417.4L467.3,1385.8L475.4,1356.7L483.7,1330.3L492.0,1303.9L500.4,1279.8L509.0,1257.9L517.5,1236.1L526.0,1214.3L534.8,1196.5L543.6,1179.8L552.3,1163.1L561.1,1146.5L569.8,1129.9L578.5,1113.3L587.2,1096.1L595.8,1078.9L604.5,1061.7L613.1,1044.5L621.7,1027.4L630.4,1013.6L639.2,999.9L647.9,986.3L656.6,972.7L665.2,959.1L673.9,945.5L682.5,932.0L691.1,918.5L699.7,905.0L708.4,893.1L717.0,881.5L725.6,870.0L734.2,858.1L742.7,844.6L751.1,831.1L759.6,817.7L768.0,804.3L776.5,791.5L784.9,779.8L793.4,768.1L801.8,756.4L810.2,744.7L818.6,733.1L827.0,723.2L835.4,713.2L843.7,702.7L852.0,692.1L860.3,681.5L868.6,670.9L876.9,660.4L885.1,649.9L893.3,638.9L901.5,627.6L909.7,616.3L917.8,605.0L925.9,593.7L934.0,582.4L942.1,571.2L950.2,560.3L958.2,549.4L966.3,538.6L974.3,527.8L982.3,517.0L990.3,508.1L998.3,499.4L1006.2,489.9L1014.2,480.3L1022.1,470.8L1030.0,461.3L1037.9,451.8L1045.7,442.3L1053.6,432.7L1061.4,423.1L1069.2,413.5L1077.0,403.9L1084.7,394.3L1092.5,384.8L1100.2,375.3L1107.9,366.1L1115.6,357.0L1123.2,347.8L1130.9,338.7L1138.5,329.6L1146.1,320.6L1153.7,311.5L1161.3,301.9L1168.9,292.4M464.0,1449.8L472.1,1420.4L480.1,1388.7L488.3,1359.6L496.6,1333.1L504.9,1306.7L513.3,1282.5L521.8,1260.7L530.4,1238.8L538.9,1216.9L547.6,1199.1L556.4,1182.4L565.2,1165.7L573.9,1149.0L582.6,1132.3L591.4,1115.7L600.0,1098.4L608.7,1081.2L617.3,1064.0L625.9,1046.8L634.5,1029.6L643.3,1015.8L652.0,1002.1L660.7,988.4L669.4,974.7L678.0,961.1L686.7,947.5L695.3,934.0L703.9,920.4L712.5,906.9L721.1,895.0L729.8,883.3L738.4,871.8L746.9,859.8L755.4,846.3L763.9,832.8L772.3,819.3L780.8,805.9L789.2,793.1L797.7,781.3L806.1,769.6L814.5,757.9L822.9,746.2L831.3,734.5L839.7,724.5L848.0,714.6L856.4,704.0L864.7,693.4L873.0,682.7L881.3,672.2L889.5,661.6L897.8,651.1L906.0,640.1L914.1,628.7L922.3,617.3L930.4,606.0L938.5,594.7L946.6,583.4L954.7,572.2L962.8,561.2L970.8,550.3L978.8,539.5L986.8,528.6L994.8,517.8L1002.8,508.9L1010.8,500.1L1018.8,490.6L1026.7,481.0L1034.6,471.4L1042.5,461.9L1050.4,452.4L1058.2,442.9L1066.1,433.2L1073.9,423.6L1081.7,413.9L1089.4,404.3L1097.2,394.7L1104.9,385.2L1112.6,375.7L1120.3,366.5L1128.0,357.3L1135.7,348.1L1143.3,339.0L1150.9,329.8L1158.5,320.7L1166.1,311.6L1173.7,302.0L1181.2,292.5M476.9,1452.9L485.0,1423.4L493.0,1391.7L501.2,1362.5L509.5,1336.0L517.8,1309.6L526.2,1285.3L534.7,1263.4L543.3,1241.5L551.8,1219.6L560.5,1201.7L569.3,1184.9L578.1,1168.2L586.8,1151.5L595.5,1134.8L604.2,1118.1L612.9,1100.8L621.5,1083.5L630.2,1066.2L638.8,1049.0L647.4,1031.8L656.1,1017.9L664.8,1004.2L673.5,990.5L682.2,976.8L690.9,963.1L699.5,949.5L708.1,935.9L716.7,922.4L725.3,908.8L733.9,896.8L742.6,885.2L751.2,873.6L759.7,861.6L768.2,848.0L776.7,834.5L785.1,821.0L793.5,807.5L802.0,794.7L810.4,782.9L818.8,771.1L827.2,759.4L835.6,747.6L844.0,736.0L852.4,725.9L860.7,715.9L869.1,705.3L877.4,694.6L885.7,684.0L893.9,673.4L902.2,662.8L910.4,652.2L918.6,641.2L926.8,629.8L934.9,618.4L943.0,607.0L951.2,595.7L959.2,584.4L967.3,573.1L975.4,562.1L983.4,551.2L991.4,540.3L999.4,529.4L1007.4,518.6L1015.4,509.6L1023.4,500.9L1031.3,491.3L1039.3,481.7L1047.2,472.1L1055.0,462.5L1062.9,453.0L1070.7,443.4L1078.6,433.7L1086.4,424.1L1094.2,414.4L1101.9,404.8L1109.7,395.2L1117.4,385.6L1125.1,376.0L1132.8,366.8L1140.5,357.6L1148.1,348.4L1155.7,339.2L1163.4,330.0L1171.0,320.9L1178.5,311.8L1186.1,302.2L1193.6,292.6M489.7,1455.9L497.9,1426.4L505.9,1394.6L514.1,1365.4L522.4,1338.9L530.7,1312.4L539.1,1288.1L547.7,1266.1L556.2,1244.2L564.7,1222.2L573.5,1204.3L582.2,1187.5L591.0,1170.7L599.7,1153.9L608.4,1137.2L617.1,1120.5L625.8,1103.2L634.4,1085.8L643.1,1068.5L651.7,1051.3L660.3,1034.0L669.0,1020.1L677.7,1006.3L686.4,992.6L695.1,978.9L703.7,965.2L712.4,951.5L721.0,937.9L729.6,924.3L738.2,910.7L746.8,898.7L755.4,887.0L764.0,875.3L772.5,863.3L781.0,849.7L789.5,836.2L797.9,822.6L806.3,809.1L814.7,796.3L823.2,784.4L831.6,772.6L840.0,760.8L848.4,749.1L856.7,737.4L865.1,727.3L873.5,717.3L881.8,706.6L890.1,695.9L898.4,685.3L906.6,674.6L914.9,664.0L923.1,653.4L931.3,642.3L939.5,630.9L947.6,619.5L955.7,608.1L963.8,596.7L971.9,585.4L980.0,574.0L988.0,563.0L996.0,552.1L1004.0,541.2L1012.0,530.2L1020.0,519.4L1028.0,510.4L1036.0,501.6L1043.9,492.0L1051.8,482.4L1059.7,472.7L1067.6,463.1L1075.5,453.5L1083.3,444.0L1091.1,434.3L1098.9,424.6L1106.7,414.9L1114.4,405.2L1122.2,395.6L1129.9,385.9L1137.6,376.4L1145.3,367.1L1152.9,357.8L1160.6,348.6L1168.2,339.4L1175.8,330.2L1183.4,321.1L1191.0,311.9L1198.5,302.3L1206.1,292.7M502.7,1459.0L510.8,1429.4L518.8,1397.6L527.0,1368.3L535.3,1341.7L543.6,1315.2L552.1,1290.9L560.6,1268.8L569.1,1246.8L577.7,1224.9L586.4,1206.9L595.2,1190.1L603.9,1173.2L612.7,1156.4L621.4,1139.7L630.1,1122.9L638.7,1105.5L647.4,1088.2L656.0,1070.8L664.6,1053.5L673.2,1036.2L681.9,1022.3L690.6,1008.5L699.3,994.7L708.0,980.9L716.6,967.2L725.2,953.5L733.9,939.8L742.5,926.2L751.0,912.6L759.6,900.5L768.2,888.8L776.8,877.1L785.4,865.1L793.8,851.5L802.3,837.9L810.7,824.3L819.1,810.8L827.6,797.9L836.0,786.0L844.4,774.1L852.8,762.3L861.2,750.5L869.5,738.8L877.9,728.7L886.2,718.6L894.6,708.0L902.9,697.2L911.1,686.5L919.4,675.9L927.6,665.2L935.8,654.6L944.0,643.5L952.2,632.0L960.3,620.5L968.4,609.1L976.5,597.7L984.6,586.3L992.6,575.0L1000.7,564.0L1008.7,553.0L1016.7,542.0L1024.7,531.1L1032.7,520.2L1040.6,511.2L1048.6,502.3L1056.5,492.7L1064.4,483.0L1072.3,473.4L1080.2,463.7L1088.0,454.1L1095.9,444.5L1103.7,434.8L1111.5,425.1L1119.2,415.3L1127.0,405.6L1134.7,396.0L1142.4,386.3L1150.1,376.7L1157.8,367.4L1165.5,358.1L1173.1,348.9L1180.7,339.7L1188.3,330.5L1195.9,321.3L1203.5,312.1L1211.0,302.4L1218.5,292.8M548.3,1344.6L556.6,1318.0L565.0,1293.6L573.6,1271.6L582.1,1249.5L590.7,1227.5L599.4,1209.5L608.1,1192.6L616.9,1175.8L625.6,1158.9L634.3,1142.1L643.0,1125.3L651.7,1107.9L660.3,1090.5L668.9,1073.1L677.5,1055.8L686.1,1038.5L694.8,1024.5L703.5,1010.6L712.2,996.8L720.9,983.0L729.5,969.3L738.2,955.5L746.8,941.8L755.3,928.2L763.9,914.5L772.5,902.4L781.1,890.7L789.7,878.9L798.2,866.8L806.7,853.2L815.1,839.6L823.6,826.0L832.0,812.4L840.4,799.4L848.8,787.5L857.2,775.7L865.6,763.8L874.0,752.0L882.3,740.2L890.7,730.1L899.0,720.0L907.3,709.3L915.6,698.5L923.9,687.8L932.1,677.1L940.4,666.4L948.6,655.8L956.7,644.6L964.9,633.1L973.0,621.6L981.1,610.2L989.2,598.7L997.3,587.3L1005.3,575.9L1013.4,564.9L1021.4,553.9L1029.4,542.9L1037.4,531.9L1045.3,520.9L1053.3,511.9L1061.2,503.1L1069.2,493.4L1077.1,483.7L1084.9,474.0L1092.8,464.3L1100.6,454.7L1108.5,445.1L1116.3,435.3L1124.0,425.6L1131.8,415.8L1139.6,406.1L1147.3,396.4L1155.0,386.7L1162.7,377.1L1170.3,367.7L1178.0,358.4L1185.6,349.2L1193.2,339.9L1200.8,330.7L1208.4,321.5L1216.0,312.2L1223.5,302.5L1231.0,292.8M629.9,1178.5L638.6,1161.6L647.3,1144.8L656.0,1128.0L664.7,1110.6L673.3,1093.1L681.9,1075.7L690.5,1058.4L699.1,1041.0L707.8,1027.0L716.5,1013.1L725.2,999.3L733.9,985.5L742.5,971.7L751.1,958.0L759.7,944.2L768.3,930.5L776.9,916.9L785.5,904.8L794.0,893.0L802.6,881.3L811.1,869.1L819.6,855.5L828.0,841.8L836.5,828.2L844.9,814.6L853.3,801.6L861.7,789.7L870.1,777.8L878.5,766.0L886.8,754.1L895.2,742.3L903.5,732.2L911.9,722.1L920.2,711.4L928.4,700.6L936.7,689.8L944.9,679.1L953.2,668.4L961.4,657.7L969.5,646.6L977.7,635.0L985.8,623.5L993.9,612.1L1002.0,600.6L1010.0,589.2L1018.1,577.8L1026.1,566.7L1034.1,555.7L1042.1,544.7L1050.1,533.7L1058.0,522.7L1066.0,513.7L1073.9,504.8L1081.8,495.1L1089.7,485.4L1097.6,475.7L1105.5,466.0L1113.3,456.4L1121.1,446.7L1128.9,437.0L1136.7,427.2L1144.4,417.4L1152.2,407.7L1159.9,398.0L1167.6,388.3L1175.3,378.6L1182.9,369.3L1190.6,360.0L1198.2,350.7L1205.8,341.4L1213.4,332.1L1220.9,322.9L1228.5,313.7L1236.0,304.0L1243.5,294.3M712.1,1043.8L720.8,1029.8L729.5,1015.9L738.2,1002.0L746.9,988.2L755.5,974.4L764.1,960.6L772.7,946.9L781.3,933.2L789.8,919.5L798.4,907.4L807.0,895.6L815.6,883.9L824.1,871.8L832.5,858.1L841.0,844.4L849.4,830.8L857.8,817.2L866.2,804.2L874.6,792.3L883.0,780.4L891.4,768.5L899.7,756.7L908.0,744.9L916.4,734.7L924.7,724.6L933.0,713.9L941.3,703.1L949.5,692.3L957.8,681.6L966.0,670.9L974.2,660.2L982.3,649.0L990.5,637.5L998.6,626.0L1006.7,614.5L1014.7,603.0L1022.8,591.6L1030.8,580.2L1038.9,569.1L1046.9,558.1L1054.8,547.1L1062.8,536.1L1070.8,525.1L1078.7,516.1L1086.7,507.2L1094.6,497.5L1102.4,487.8L1110.3,478.1L1118.1,468.4L1126.0,458.7L1133.8,449.1L1141.6,439.3L1149.3,429.5L1157.1,419.7L1164.8,410.0L1172.5,400.3L1180.2,390.6L1187.9,380.9L1195.5,371.6L1203.2,362.2L1210.8,352.9L1218.4,343.7L1225.9,334.4L1233.5,325.2L1241.0,315.9L1248.6,306.2L1256.1,296.5M768.5,977.1L777.1,963.3L785.7,949.6L794.3,935.9L802.8,922.2L811.4,910.1L820.0,898.3L828.5,886.5L837.1,874.4L845.5,860.7L853.9,847.0L862.4,833.4L870.7,819.8L879.1,806.8L887.5,794.8L895.9,782.9L904.3,771.1L912.6,759.2L921.0,747.4L929.3,737.2L937.6,727.1L945.9,716.4L954.2,705.6L962.4,694.8L970.6,684.1L978.8,673.3L987.0,662.7L995.2,651.5L1003.3,639.9L1011.4,628.4L1019.5,616.9L1027.6,605.5L1035.6,594.0L1043.6,582.6L1051.7,571.5L1059.6,560.5L1067.6,549.4L1075.6,538.4L1083.5,527.5L1091.5,518.4L1099.4,509.5L1107.3,499.9L1115.2,490.1L1123.0,480.4L1130.9,470.7L1138.7,461.0L1146.5,451.4L1154.2,441.6L1162.0,431.8L1169.7,422.0L1177.5,412.3L1185.2,402.6L1192.8,392.8L1200.5,383.2L1208.1,373.8L1215.8,364.5L1223.4,355.2L1231.0,345.9L1238.5,336.7L1246.1,327.4L1253.6,318.2L1261.1,308.5L1268.6,298.7M824.4,912.7L833.0,900.9L841.5,889.2L850.1,877.0L858.5,863.3L866.9,849.6L875.3,836.0L883.7,822.4L892.1,809.4L900.5,797.4L908.9,785.5L917.2,773.6L925.6,761.7L933.9,749.9L942.2,739.8L950.5,729.6L958.8,718.9L967.1,708.1L975.3,697.3L983.5,686.6L991.7,675.8L999.9,665.1L1008.0,654.0L1016.2,642.4L1024.3,630.9L1032.3,619.4L1040.4,607.9L1048.4,596.5L1056.5,585.0L1064.5,573.9L1072.5,562.9L1080.4,551.8L1088.4,540.8L1096.3,529.8L1104.2,520.8L1112.2,511.9L1120.1,502.2L1127.9,492.5L1135.8,482.8L1143.6,473.1L1151.4,463.4L1159.2,453.7L1167.0,443.9L1174.7,434.1L1182.4,424.3L1190.1,414.6L1197.8,404.9L1205.5,395.1L1213.2,385.5L1220.8,376.1L1228.4,366.8L1236.0,357.5L1243.6,348.2L1251.2,338.9L1258.7,329.7L1266.2,320.4L1273.7,310.7L1281.2,301.0M879.9,852.2L888.3,838.6L896.7,824.9L905.1,811.9L913.5,800.0L921.9,788.1L930.2,776.2L938.6,764.3L946.9,752.5L955.2,742.3L963.5,732.2L971.8,721.4L980.0,710.6L988.2,699.8L996.4,689.0L1004.6,678.3L1012.8,667.6L1020.9,656.4L1029.0,644.9L1037.1,633.3L1045.2,621.8L1053.3,610.3L1061.3,598.9L1069.3,587.5L1077.3,576.3L1085.3,565.3L1093.3,554.2L1101.2,543.2L1109.1,532.2L1117.1,523.2L1125.0,514.3L1132.8,504.6L1140.7,494.8L1148.5,485.1L1156.4,475.4L1164.2,465.7L1171.9,456.1L1179.7,446.3L1187.4,436.4L1195.2,426.7L1202.9,416.9L1210.5,407.2L1218.2,397.4L1225.9,387.8L1233.5,378.4L1241.1,369.1L1248.7,359.7L1256.2,350.5L1263.8,341.2L1271.3,331.9L1278.8,322.7L1286.3,312.9L1293.8,303.2M934.9,790.6L943.2,778.7L951.5,766.8L959.9,755.0L968.2,744.8L976.5,734.7L984.7,723.9L993.0,713.1L1001.2,702.3L1009.4,691.5L1017.6,680.8L1025.7,670.1L1033.9,658.9L1042.0,647.3L1050.0,635.8L1058.1,624.3L1066.2,612.8L1074.2,601.3L1082.2,589.9L1090.2,578.8L1098.2,567.7L1106.1,556.6L1114.0,545.6L1122.0,534.6L1129.9,525.6L1137.8,516.7L1145.7,507.0L1153.5,497.2L1161.3,487.5L1169.1,477.8L1176.9,468.1L1184.7,458.4L1192.5,448.6L1200.2,438.8L1207.9,429.0L1215.6,419.2L1223.3,409.5L1230.9,399.7L1238.6,390.1L1246.2,380.7L1253.8,371.3L1261.4,362.0L1268.9,352.7L1276.5,343.5L1284.0,334.2L1291.5,325.0L1299.0,315.2L1306.5,305.5M989.5,737.2L997.7,726.4L1006.0,715.6L1014.2,704.8L1022.4,694.0L1030.5,683.3L1038.7,672.6L1046.8,661.4L1054.9,649.8L1063.0,638.3L1071.0,626.7L1079.1,615.2L1087.1,603.8L1095.1,592.3L1103.1,581.2L1111.0,570.1L1119.0,559.1L1126.9,548.0L1134.8,537.0L1142.7,528.0L1150.6,519.0L1158.5,509.3L1166.3,499.6L1174.2,489.8L1182.0,480.1L1189.7,470.4L1197.5,460.7L1205.2,450.9L1213.0,441.1L1220.7,431.3L1228.4,421.5L1236.0,411.8L1243.7,402.1L1251.3,392.4L1258.9,383.0L1266.5,373.6L1274.1,364.3L1281.6,355.0L1289.2,345.7L1296.7,336.5L1304.2,327.2L1311.7,317.5L1319.1,307.7M1059.8,663.9L1067.9,652.3L1075.9,640.7L1084.0,629.2L1092.0,617.7L1100.0,606.2L1108.0,594.7L1116.0,583.6L1124.0,572.5L1131.9,561.5L1139.8,550.4L1147.7,539.4L1155.6,530.3L1163.5,521.4L1171.4,511.7L1179.2,501.9L1187.0,492.2L1194.8,482.5L1202.6,472.8L1210.3,463.1L1218.1,453.3L1225.8,443.4L1233.5,433.6L1241.1,423.9L1248.8,414.1L1256.4,404.4L1264.1,394.7L1271.7,385.3L1279.2,375.9L1286.8,366.6L1294.3,357.3L1301.9,348.0L1309.4,338.7L1316.9,329.5L1324.3,319.7L1331.8,310.0M1105.0,620.1L1113.0,608.6L1121.0,597.2L1128.9,586.1L1136.9,575.0L1144.8,563.9L1152.7,552.8L1160.6,541.8L1168.5,532.7L1176.4,523.8L1184.2,514.1L1192.1,504.3L1199.9,494.6L1207.6,484.8L1215.4,475.1L1223.2,465.5L1230.9,455.6L1238.6,445.8L1246.3,436.0L1253.9,426.2L1261.6,416.4L1269.2,406.7L1276.8,397.0L1284.4,387.6L1292.0,378.2L1299.6,368.9L1307.1,359.6L1314.6,350.3L1322.1,341.0L1329.6,331.8L1337.1,322.0L1344.5,312.2M1149.9,577.4L1157.8,566.3L1165.7,555.3L1173.6,544.3L1181.5,535.2L1189.3,526.3L1197.1,516.5L1205.0,506.7L1212.8,497.0L1220.5,487.2L1228.3,477.5L1236.0,467.8L1243.7,458.0L1251.4,448.2L1259.1,438.3L1266.8,428.6L1274.4,418.8L1282.0,409.0L1289.6,399.3L1297.2,389.9L1304.8,380.6L1312.3,371.2L1319.9,361.9L1327.4,352.6L1334.9,343.3L1342.3,334.1L1349.8,324.3L1357.2,314.5M1186.5,546.7L1194.4,537.6L1202.3,528.7L1210.1,519.0L1217.9,509.2L1225.7,499.4L1233.4,489.7L1241.2,480.0L1248.9,470.3L1256.6,460.4L1264.3,450.6L1272.0,440.8L1279.6,431.0L1287.3,421.2L1294.9,411.4L1302.5,401.7L1310.1,392.3L1317.6,383.0L1325.1,373.6L1332.7,364.3L1340.2,355.0L1347.6,345.7L1355.1,336.4L1362.5,326.6L1370.0,316.9M1230.8,511.6L1238.6,501.9L1246.4,492.1L1254.1,482.4L1261.8,472.7L1269.5,462.9L1277.2,453.0L1284.9,443.2L1292.5,433.4L1300.1,423.6L1307.7,413.8L1315.3,404.1L1322.9,394.7L1330.4,385.3L1338.0,376.0L1345.5,366.7L1353.0,357.3L1360.4,348.1L1367.9,338.8L1375.3,329.0L1382.8,319.2M1282.5,465.3L1290.1,455.4L1297.8,445.6L1305.4,435.8L1313.0,426.0L1320.6,416.2L1328.2,406.5L1335.8,397.1L1343.3,387.7L1350.8,378.4L1358.3,369.0L1365.8,359.7L1373.3,350.4L1380.7,341.1L1388.1,331.4L1395.6,321.6M1310.7,448.0L1318.4,438.2L1326.0,428.4L1333.5,418.6L1341.1,408.9L1348.7,399.5L1356.2,390.1L1363.7,380.7L1371.2,371.4L1378.7,362.1L1386.1,352.8L1393.6,343.5L1401.0,333.7L1408.4,323.9M1346.5,421.0L1354.0,411.3L1361.6,401.9L1369.1,392.5L1376.6,383.1L1384.1,373.8L1391.5,364.5L1399.0,355.2L1406.4,345.9L1413.8,336.1L1421.2,326.3M1374.5,404.3L1382.0,394.9L1389.5,385.5L1397.0,376.2L1404.5,366.9L1411.9,357.6L1419.3,348.3L1426.7,338.4L1434.1,328.7M1409.9,378.6L1417.4,369.2L1424.8,359.9L1432.2,350.6L1439.6,340.8L1447.0,331.0M1437.8,362.3L1445.2,353.0L1452.5,343.2L1459.9,333.4M1465.5,345.6L1472.8,335.8" fill="none" stroke="#000" stroke-width="4.2" stroke-opacity="0.78" stroke-linejoin="round"/>
<polygon points="2084.0,628.0 2077.5,655.0 2069.5,757.0 2059.5,881.0 2053.5,964.0 2047.0,1040.0 2041.0,1121.0 2032.0,1225.0 2025.0,1289.0 2031.0,1368.0 2039.0,1473.0 2050.0,1473.0 2054.0,1368.0 2057.0,1289.0 2064.0,1215.0 2072.0,1121.0 2082.0,1005.0 2087.6,935.0 2090.0,900.0 2091.0,632.0" fill="#000"/>
<path d="M2082.0,762.0L2080.5,890.0M2072.5,900.0L2071.5,921.0M2068.5,946.0L2067.0,973.0M2064.5,1005.0L2063.5,1022.0" stroke="#a8cc10" stroke-width="5" fill="none"/>
<path d="M2085.0,919.0L2084.0,938.0M2080.0,961.0L2078.5,986.0M2077.0,1017.0L2076.0,1035.0M2072.5,1076.0L2072.0,1084.0" stroke="#12d012" stroke-width="5.5" fill="none"/>
<path d="M2062.0,1064.0L2062.0,1071.0" stroke="#708010" stroke-width="5" fill="none"/>
<path d="M2055.5,1057.0L2055.0,1066.0M2052.8,1108.0L2051.5,1127.0M2048.5,1160.0L2047.0,1192.0M2045.5,1208.0L2043.5,1255.0M2041.2,1261.0L2039.5,1309.0" stroke="#0000e8" stroke-width="6" fill="none"/>
<path d="M2060.7,1187.0L2060.5,1194.0M2056.8,1236.0L2056.0,1253.0M2053.0,1280.0L2052.0,1307.0" stroke="#0000c8" stroke-width="5.5" fill="none"/>
<path d="M2037.5,1312.0L2041.0,1400.0M2041.0,1404.0L2044.5,1470.0" stroke="#0000e8" stroke-width="7" fill="none"/>
<defs><linearGradient id="sg" gradientUnits="userSpaceOnUse" x1="2110" y1="630" x2="2100" y2="905"><stop offset="0" stop-color="#fff000"/><stop offset="0.45" stop-color="#b4f800"/><stop offset="1" stop-color="#10f010"/></linearGradient><clipPath id="sc"><polygon points="2087.0,626.0 2222.5,727.5 2083.0,907.0"/></clipPath></defs>
<polygon points="2087.0,626.0 2222.5,727.5 2083.0,907.0" fill="url(#sg)"/>
<g clip-path="url(#sc)"><path d="M1901.6,785.7L2073.4,919.0M1908.8,777.1L2080.3,910.0M1915.9,768.4L2087.3,901.2M1923.0,759.8L2094.2,892.3M1930.1,751.2L2101.0,883.5M1937.2,742.6L2107.9,874.7M1944.2,734.1L2114.7,865.9M1951.2,725.6L2121.6,857.1M1958.3,717.1L2128.4,848.4M1965.2,708.6L2135.1,839.7M1972.2,700.2L2141.9,831.0M1979.2,691.8L2148.6,822.4M1986.1,683.4L2155.4,813.7M1993.0,675.0L2162.1,805.1M1999.9,666.7L2168.7,796.6M2006.7,658.3L2175.4,788.0M2013.6,650.0L2182.0,779.5M2020.4,641.8L2188.7,771.0M2027.2,633.5L2195.3,762.5M2034.0,625.3L2201.8,754.0M2040.8,617.1L2208.4,745.6M2047.5,608.9L2215.0,737.2M2054.3,600.7L2221.5,728.8" fill="none" stroke="#000" stroke-width="3.8" stroke-opacity="0.8"/><path d="M1919.9,799.9L2072.1,614.4M1933.8,810.7L2085.6,624.8M1947.7,821.5L2099.2,635.1M1961.6,832.3L2112.7,645.5M1975.6,843.1L2126.3,655.9M1989.5,853.9L2139.8,666.3M2003.5,864.7L2153.4,676.7M2017.4,875.5L2167.0,687.1M2031.4,886.4L2180.6,697.5M2045.4,897.2L2194.2,707.9M2059.4,908.1L2207.9,718.4M2073.4,919.0L2221.5,728.8" fill="none" stroke="#000" stroke-width="3.8" stroke-opacity="0.75"/></g>
<polygon points="2087.0,626.0 2222.5,727.5 2083.0,907.0" fill="none" stroke="#111" stroke-width="2.5"/>
<circle cx="349.2" cy="1570.0" r="16.5" fill="#dc0000" stroke="#4a0000" stroke-width="3"/>
<circle cx="718.2" cy="722.2" r="16.5" fill="#dc0000" stroke="#4a0000" stroke-width="3"/>
<circle cx="1068.0" cy="290.5" r="16.5" fill="#dc0000" stroke="#4a0000" stroke-width="3"/>
<circle cx="926.9" cy="1759.5" r="16.5" fill="#dc0000" stroke="#4a0000" stroke-width="3"/>
<circle cx="1292.9" cy="1445.8" r="16.5" fill="#dc0000" stroke="#4a0000" stroke-width="3"/>
<circle cx="1610.0" cy="1173.3" r="16.5" fill="#dc0000" stroke="#4a0000" stroke-width="3"/>
<circle cx="1556.0" cy="1966.0" r="16.5" fill="#dc0000" stroke="#4a0000" stroke-width="3"/>
<circle cx="1891.2" cy="1625.8" r="16.5" fill="#dc0000" stroke="#4a0000" stroke-width="3"/>
<circle cx="2222.5" cy="727.5" r="16.5" fill="#dc0000" stroke="#4a0000" stroke-width="3"/>
<text x="93.4" y="602.4" textLength="152.6" lengthAdjust="spacingAndGlyphs" font-family="'Liberation Serif', serif" font-size="90" fill="#1e1e1e">1.00</text>
<text x="108.6" y="787.6" textLength="147.8" lengthAdjust="spacingAndGlyphs" font-family="'Liberation Serif', serif" font-size="90" fill="#1e1e1e">0.80</text>
<text x="120.4" y="980.6" textLength="149.0" lengthAdjust="spacingAndGlyphs" font-family="'Liberation Serif', serif" font-size="90" fill="#1e1e1e">0.60</text>
<text x="136.2" y="1165.4" textLength="149.0" lengthAdjust="spacingAndGlyphs" font-family="'Liberation Serif', serif" font-size="90" fill="#1e1e1e">0.40</text>
<text x="149.3" y="1357.0" textLength="149.0" lengthAdjust="spacingAndGlyphs" font-family="'Liberation Serif', serif" font-size="90" fill="#1e1e1e">0.20</text>
<text x="161.0" y="1546.7" textLength="152.0" lengthAdjust="spacingAndGlyphs" font-family="'Liberation Serif', serif" font-size="90" fill="#1e1e1e">0.00</text>
<text x="143.0" y="1945.9" textLength="192.4" lengthAdjust="spacingAndGlyphs" font-family="'Liberation Serif', serif" font-size="90" fill="#1e1e1e">0.150</text>
<text x="379.3" y="2029.9" textLength="191.0" lengthAdjust="spacingAndGlyphs" font-family="'Liberation Serif', serif" font-size="90" fill="#1e1e1e">0.130</text>
<text x="612.7" y="2114.0" textLength="192.3" lengthAdjust="spacingAndGlyphs" font-family="'Liberation Serif', serif" font-size="90" fill="#1e1e1e">0.110</text>
<text x="847.7" y="2192.8" textLength="195.0" lengthAdjust="spacingAndGlyphs" font-family="'Liberation Serif', serif" font-size="90" fill="#1e1e1e">0.090</text>
<text x="1083.7" y="2275.4" textLength="193.7" lengthAdjust="spacingAndGlyphs" font-family="'Liberation Serif', serif" font-size="90" fill="#1e1e1e">0.070</text>
<text x="1320.0" y="2359.4" textLength="194.0" lengthAdjust="spacingAndGlyphs" font-family="'Liberation Serif', serif" font-size="90" fill="#1e1e1e">0.050</text>
<text x="1591.5" y="2358.0" textLength="84.8" lengthAdjust="spacingAndGlyphs" font-family="'Liberation Serif', serif" font-size="90" fill="#1e1e1e">90</text>
<text x="1739.2" y="2192.7" textLength="134.0" lengthAdjust="spacingAndGlyphs" font-family="'Liberation Serif', serif" font-size="90" fill="#1e1e1e">120</text>
<text x="1894.3" y="2029.4" textLength="135.4" lengthAdjust="spacingAndGlyphs" font-family="'Liberation Serif', serif" font-size="90" fill="#1e1e1e">150</text>
<text x="2045.3" y="1862.6" textLength="134.0" lengthAdjust="spacingAndGlyphs" font-family="'Liberation Serif', serif" font-size="90" fill="#1e1e1e">180</text>
<text x="2202.3" y="1698.5" textLength="134.7" lengthAdjust="spacingAndGlyphs" font-family="'Liberation Serif', serif" font-size="90" fill="#1e1e1e">210</text>
</g>
<path d="M1415.2,172L1415.2,323" stroke="#1c1c1c" stroke-width="4.6" fill="none"/>
<rect x="1230.8" y="41.1" width="322" height="127.2" fill="#fff" stroke="#000" stroke-width="7.6" stroke-linejoin="round"/>
<text x="1394.3" y="131.3" font-family="'Liberation Serif', serif" font-size="80" text-anchor="middle" fill="#000">0.925</text>
<text transform="translate(107,1672.8) rotate(-90)" font-family="'Liberation Serif', serif" font-size="80" fill="#000">Desirability</text>
<text x="405" y="2302.5" textLength="451" lengthAdjust="spacing" font-family="'Liberation Serif', serif" font-size="80" fill="#000" xml:space="preserve">C: <tspan font-style="italic">f</tspan> (mm/rev)</text>
<text x="1815" y="2288.4" textLength="447" lengthAdjust="spacing" font-family="'Liberation Serif', serif" font-size="80" fill="#000" xml:space="preserve">B: <tspan font-style="italic">v</tspan><tspan font-style="italic" font-size="52" dy="18">c</tspan><tspan dy="-18"> (m/min)</tspan></text>
<rect x="19.8" y="14.8" width="2335.3" height="2370.1" fill="none" stroke="#000" stroke-width="7.6"/>
</svg>
</body></html>
